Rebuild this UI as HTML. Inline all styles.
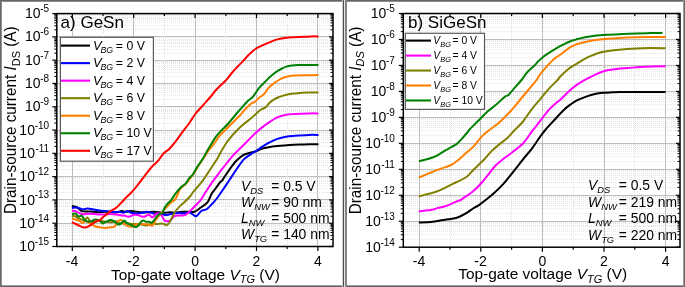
<!DOCTYPE html>
<html><head><meta charset="utf-8"><style>
html,body{margin:0;padding:0;background:#fff;}
body{width:685px;height:287px;overflow:hidden;}
svg{display:block;will-change:transform;}
text{font-family:"Liberation Sans", sans-serif;}
</style></head><body>
<svg width="685" height="287" viewBox="0 0 685 287" font-family='"Liberation Sans", sans-serif' fill="#000">
<rect x="0" y="0" width="685" height="287" fill="#fff"/>
<g shape-rendering="crispEdges"><line x1="56.8" y1="239.49" x2="333.0" y2="239.49" stroke="#e6e6e6" stroke-width="1" stroke-dasharray="1,1"/>
<line x1="56.8" y1="235.39" x2="333.0" y2="235.39" stroke="#e6e6e6" stroke-width="1" stroke-dasharray="1,1"/>
<line x1="56.8" y1="232.48" x2="333.0" y2="232.48" stroke="#e6e6e6" stroke-width="1" stroke-dasharray="1,1"/>
<line x1="56.8" y1="230.22" x2="333.0" y2="230.22" stroke="#e6e6e6" stroke-width="1" stroke-dasharray="1,1"/>
<line x1="56.8" y1="228.38" x2="333.0" y2="228.38" stroke="#e6e6e6" stroke-width="1" stroke-dasharray="1,1"/>
<line x1="56.8" y1="226.82" x2="333.0" y2="226.82" stroke="#e6e6e6" stroke-width="1" stroke-dasharray="1,1"/>
<line x1="56.8" y1="225.47" x2="333.0" y2="225.47" stroke="#e6e6e6" stroke-width="1" stroke-dasharray="1,1"/>
<line x1="56.8" y1="224.28" x2="333.0" y2="224.28" stroke="#e6e6e6" stroke-width="1" stroke-dasharray="1,1"/>
<line x1="56.8" y1="223.21" x2="333.0" y2="223.21" stroke="#bebebe" stroke-width="1"/>
<line x1="56.8" y1="216.20" x2="333.0" y2="216.20" stroke="#e6e6e6" stroke-width="1" stroke-dasharray="1,1"/>
<line x1="56.8" y1="212.10" x2="333.0" y2="212.10" stroke="#e6e6e6" stroke-width="1" stroke-dasharray="1,1"/>
<line x1="56.8" y1="209.19" x2="333.0" y2="209.19" stroke="#e6e6e6" stroke-width="1" stroke-dasharray="1,1"/>
<line x1="56.8" y1="206.93" x2="333.0" y2="206.93" stroke="#e6e6e6" stroke-width="1" stroke-dasharray="1,1"/>
<line x1="56.8" y1="205.09" x2="333.0" y2="205.09" stroke="#e6e6e6" stroke-width="1" stroke-dasharray="1,1"/>
<line x1="56.8" y1="203.53" x2="333.0" y2="203.53" stroke="#e6e6e6" stroke-width="1" stroke-dasharray="1,1"/>
<line x1="56.8" y1="202.18" x2="333.0" y2="202.18" stroke="#e6e6e6" stroke-width="1" stroke-dasharray="1,1"/>
<line x1="56.8" y1="200.99" x2="333.0" y2="200.99" stroke="#e6e6e6" stroke-width="1" stroke-dasharray="1,1"/>
<line x1="56.8" y1="199.92" x2="333.0" y2="199.92" stroke="#bebebe" stroke-width="1"/>
<line x1="56.8" y1="192.91" x2="333.0" y2="192.91" stroke="#e6e6e6" stroke-width="1" stroke-dasharray="1,1"/>
<line x1="56.8" y1="188.81" x2="333.0" y2="188.81" stroke="#e6e6e6" stroke-width="1" stroke-dasharray="1,1"/>
<line x1="56.8" y1="185.90" x2="333.0" y2="185.90" stroke="#e6e6e6" stroke-width="1" stroke-dasharray="1,1"/>
<line x1="56.8" y1="183.64" x2="333.0" y2="183.64" stroke="#e6e6e6" stroke-width="1" stroke-dasharray="1,1"/>
<line x1="56.8" y1="181.80" x2="333.0" y2="181.80" stroke="#e6e6e6" stroke-width="1" stroke-dasharray="1,1"/>
<line x1="56.8" y1="180.24" x2="333.0" y2="180.24" stroke="#e6e6e6" stroke-width="1" stroke-dasharray="1,1"/>
<line x1="56.8" y1="178.89" x2="333.0" y2="178.89" stroke="#e6e6e6" stroke-width="1" stroke-dasharray="1,1"/>
<line x1="56.8" y1="177.70" x2="333.0" y2="177.70" stroke="#e6e6e6" stroke-width="1" stroke-dasharray="1,1"/>
<line x1="56.8" y1="176.63" x2="333.0" y2="176.63" stroke="#bebebe" stroke-width="1"/>
<line x1="56.8" y1="169.62" x2="333.0" y2="169.62" stroke="#e6e6e6" stroke-width="1" stroke-dasharray="1,1"/>
<line x1="56.8" y1="165.52" x2="333.0" y2="165.52" stroke="#e6e6e6" stroke-width="1" stroke-dasharray="1,1"/>
<line x1="56.8" y1="162.61" x2="333.0" y2="162.61" stroke="#e6e6e6" stroke-width="1" stroke-dasharray="1,1"/>
<line x1="56.8" y1="160.35" x2="333.0" y2="160.35" stroke="#e6e6e6" stroke-width="1" stroke-dasharray="1,1"/>
<line x1="56.8" y1="158.51" x2="333.0" y2="158.51" stroke="#e6e6e6" stroke-width="1" stroke-dasharray="1,1"/>
<line x1="56.8" y1="156.95" x2="333.0" y2="156.95" stroke="#e6e6e6" stroke-width="1" stroke-dasharray="1,1"/>
<line x1="56.8" y1="155.60" x2="333.0" y2="155.60" stroke="#e6e6e6" stroke-width="1" stroke-dasharray="1,1"/>
<line x1="56.8" y1="154.41" x2="333.0" y2="154.41" stroke="#e6e6e6" stroke-width="1" stroke-dasharray="1,1"/>
<line x1="56.8" y1="153.34" x2="333.0" y2="153.34" stroke="#bebebe" stroke-width="1"/>
<line x1="56.8" y1="146.33" x2="333.0" y2="146.33" stroke="#e6e6e6" stroke-width="1" stroke-dasharray="1,1"/>
<line x1="56.8" y1="142.23" x2="333.0" y2="142.23" stroke="#e6e6e6" stroke-width="1" stroke-dasharray="1,1"/>
<line x1="56.8" y1="139.32" x2="333.0" y2="139.32" stroke="#e6e6e6" stroke-width="1" stroke-dasharray="1,1"/>
<line x1="56.8" y1="137.06" x2="333.0" y2="137.06" stroke="#e6e6e6" stroke-width="1" stroke-dasharray="1,1"/>
<line x1="56.8" y1="135.22" x2="333.0" y2="135.22" stroke="#e6e6e6" stroke-width="1" stroke-dasharray="1,1"/>
<line x1="56.8" y1="133.66" x2="333.0" y2="133.66" stroke="#e6e6e6" stroke-width="1" stroke-dasharray="1,1"/>
<line x1="56.8" y1="132.31" x2="333.0" y2="132.31" stroke="#e6e6e6" stroke-width="1" stroke-dasharray="1,1"/>
<line x1="56.8" y1="131.12" x2="333.0" y2="131.12" stroke="#e6e6e6" stroke-width="1" stroke-dasharray="1,1"/>
<line x1="56.8" y1="130.05" x2="333.0" y2="130.05" stroke="#bebebe" stroke-width="1"/>
<line x1="56.8" y1="123.04" x2="333.0" y2="123.04" stroke="#e6e6e6" stroke-width="1" stroke-dasharray="1,1"/>
<line x1="56.8" y1="118.94" x2="333.0" y2="118.94" stroke="#e6e6e6" stroke-width="1" stroke-dasharray="1,1"/>
<line x1="56.8" y1="116.03" x2="333.0" y2="116.03" stroke="#e6e6e6" stroke-width="1" stroke-dasharray="1,1"/>
<line x1="56.8" y1="113.77" x2="333.0" y2="113.77" stroke="#e6e6e6" stroke-width="1" stroke-dasharray="1,1"/>
<line x1="56.8" y1="111.93" x2="333.0" y2="111.93" stroke="#e6e6e6" stroke-width="1" stroke-dasharray="1,1"/>
<line x1="56.8" y1="110.37" x2="333.0" y2="110.37" stroke="#e6e6e6" stroke-width="1" stroke-dasharray="1,1"/>
<line x1="56.8" y1="109.02" x2="333.0" y2="109.02" stroke="#e6e6e6" stroke-width="1" stroke-dasharray="1,1"/>
<line x1="56.8" y1="107.83" x2="333.0" y2="107.83" stroke="#e6e6e6" stroke-width="1" stroke-dasharray="1,1"/>
<line x1="56.8" y1="106.76" x2="333.0" y2="106.76" stroke="#bebebe" stroke-width="1"/>
<line x1="56.8" y1="99.75" x2="333.0" y2="99.75" stroke="#e6e6e6" stroke-width="1" stroke-dasharray="1,1"/>
<line x1="56.8" y1="95.65" x2="333.0" y2="95.65" stroke="#e6e6e6" stroke-width="1" stroke-dasharray="1,1"/>
<line x1="56.8" y1="92.74" x2="333.0" y2="92.74" stroke="#e6e6e6" stroke-width="1" stroke-dasharray="1,1"/>
<line x1="56.8" y1="90.48" x2="333.0" y2="90.48" stroke="#e6e6e6" stroke-width="1" stroke-dasharray="1,1"/>
<line x1="56.8" y1="88.64" x2="333.0" y2="88.64" stroke="#e6e6e6" stroke-width="1" stroke-dasharray="1,1"/>
<line x1="56.8" y1="87.08" x2="333.0" y2="87.08" stroke="#e6e6e6" stroke-width="1" stroke-dasharray="1,1"/>
<line x1="56.8" y1="85.73" x2="333.0" y2="85.73" stroke="#e6e6e6" stroke-width="1" stroke-dasharray="1,1"/>
<line x1="56.8" y1="84.54" x2="333.0" y2="84.54" stroke="#e6e6e6" stroke-width="1" stroke-dasharray="1,1"/>
<line x1="56.8" y1="83.47" x2="333.0" y2="83.47" stroke="#bebebe" stroke-width="1"/>
<line x1="56.8" y1="76.46" x2="333.0" y2="76.46" stroke="#e6e6e6" stroke-width="1" stroke-dasharray="1,1"/>
<line x1="56.8" y1="72.36" x2="333.0" y2="72.36" stroke="#e6e6e6" stroke-width="1" stroke-dasharray="1,1"/>
<line x1="56.8" y1="69.45" x2="333.0" y2="69.45" stroke="#e6e6e6" stroke-width="1" stroke-dasharray="1,1"/>
<line x1="56.8" y1="67.19" x2="333.0" y2="67.19" stroke="#e6e6e6" stroke-width="1" stroke-dasharray="1,1"/>
<line x1="56.8" y1="65.35" x2="333.0" y2="65.35" stroke="#e6e6e6" stroke-width="1" stroke-dasharray="1,1"/>
<line x1="56.8" y1="63.79" x2="333.0" y2="63.79" stroke="#e6e6e6" stroke-width="1" stroke-dasharray="1,1"/>
<line x1="56.8" y1="62.44" x2="333.0" y2="62.44" stroke="#e6e6e6" stroke-width="1" stroke-dasharray="1,1"/>
<line x1="56.8" y1="61.25" x2="333.0" y2="61.25" stroke="#e6e6e6" stroke-width="1" stroke-dasharray="1,1"/>
<line x1="56.8" y1="60.18" x2="333.0" y2="60.18" stroke="#bebebe" stroke-width="1"/>
<line x1="56.8" y1="53.17" x2="333.0" y2="53.17" stroke="#e6e6e6" stroke-width="1" stroke-dasharray="1,1"/>
<line x1="56.8" y1="49.07" x2="333.0" y2="49.07" stroke="#e6e6e6" stroke-width="1" stroke-dasharray="1,1"/>
<line x1="56.8" y1="46.16" x2="333.0" y2="46.16" stroke="#e6e6e6" stroke-width="1" stroke-dasharray="1,1"/>
<line x1="56.8" y1="43.90" x2="333.0" y2="43.90" stroke="#e6e6e6" stroke-width="1" stroke-dasharray="1,1"/>
<line x1="56.8" y1="42.06" x2="333.0" y2="42.06" stroke="#e6e6e6" stroke-width="1" stroke-dasharray="1,1"/>
<line x1="56.8" y1="40.50" x2="333.0" y2="40.50" stroke="#e6e6e6" stroke-width="1" stroke-dasharray="1,1"/>
<line x1="56.8" y1="39.15" x2="333.0" y2="39.15" stroke="#e6e6e6" stroke-width="1" stroke-dasharray="1,1"/>
<line x1="56.8" y1="37.96" x2="333.0" y2="37.96" stroke="#e6e6e6" stroke-width="1" stroke-dasharray="1,1"/>
<line x1="56.8" y1="36.89" x2="333.0" y2="36.89" stroke="#bebebe" stroke-width="1"/>
<line x1="56.8" y1="29.88" x2="333.0" y2="29.88" stroke="#e6e6e6" stroke-width="1" stroke-dasharray="1,1"/>
<line x1="56.8" y1="25.78" x2="333.0" y2="25.78" stroke="#e6e6e6" stroke-width="1" stroke-dasharray="1,1"/>
<line x1="56.8" y1="22.87" x2="333.0" y2="22.87" stroke="#e6e6e6" stroke-width="1" stroke-dasharray="1,1"/>
<line x1="56.8" y1="20.61" x2="333.0" y2="20.61" stroke="#e6e6e6" stroke-width="1" stroke-dasharray="1,1"/>
<line x1="56.8" y1="18.77" x2="333.0" y2="18.77" stroke="#e6e6e6" stroke-width="1" stroke-dasharray="1,1"/>
<line x1="56.8" y1="17.21" x2="333.0" y2="17.21" stroke="#e6e6e6" stroke-width="1" stroke-dasharray="1,1"/>
<line x1="56.8" y1="15.86" x2="333.0" y2="15.86" stroke="#e6e6e6" stroke-width="1" stroke-dasharray="1,1"/>
<line x1="56.8" y1="14.67" x2="333.0" y2="14.67" stroke="#e6e6e6" stroke-width="1" stroke-dasharray="1,1"/>
<line x1="72.30" y1="13.6" x2="72.30" y2="246.5" stroke="#bebebe" stroke-width="1"/>
<line x1="103.00" y1="13.6" x2="103.00" y2="246.5" stroke="#e6e6e6" stroke-width="1" stroke-dasharray="1,1"/>
<line x1="133.70" y1="13.6" x2="133.70" y2="246.5" stroke="#bebebe" stroke-width="1"/>
<line x1="164.40" y1="13.6" x2="164.40" y2="246.5" stroke="#e6e6e6" stroke-width="1" stroke-dasharray="1,1"/>
<line x1="195.10" y1="13.6" x2="195.10" y2="246.5" stroke="#bebebe" stroke-width="1"/>
<line x1="225.80" y1="13.6" x2="225.80" y2="246.5" stroke="#e6e6e6" stroke-width="1" stroke-dasharray="1,1"/>
<line x1="256.50" y1="13.6" x2="256.50" y2="246.5" stroke="#bebebe" stroke-width="1"/>
<line x1="287.20" y1="13.6" x2="287.20" y2="246.5" stroke="#e6e6e6" stroke-width="1" stroke-dasharray="1,1"/>
<line x1="317.90" y1="13.6" x2="317.90" y2="246.5" stroke="#bebebe" stroke-width="1"/>
<line x1="403.3" y1="239.38" x2="680.0" y2="239.38" stroke="#e6e6e6" stroke-width="1" stroke-dasharray="1,1"/>
<line x1="403.3" y1="234.81" x2="680.0" y2="234.81" stroke="#e6e6e6" stroke-width="1" stroke-dasharray="1,1"/>
<line x1="403.3" y1="231.57" x2="680.0" y2="231.57" stroke="#e6e6e6" stroke-width="1" stroke-dasharray="1,1"/>
<line x1="403.3" y1="229.05" x2="680.0" y2="229.05" stroke="#e6e6e6" stroke-width="1" stroke-dasharray="1,1"/>
<line x1="403.3" y1="226.99" x2="680.0" y2="226.99" stroke="#e6e6e6" stroke-width="1" stroke-dasharray="1,1"/>
<line x1="403.3" y1="225.26" x2="680.0" y2="225.26" stroke="#e6e6e6" stroke-width="1" stroke-dasharray="1,1"/>
<line x1="403.3" y1="223.75" x2="680.0" y2="223.75" stroke="#e6e6e6" stroke-width="1" stroke-dasharray="1,1"/>
<line x1="403.3" y1="222.42" x2="680.0" y2="222.42" stroke="#e6e6e6" stroke-width="1" stroke-dasharray="1,1"/>
<line x1="403.3" y1="221.23" x2="680.0" y2="221.23" stroke="#bebebe" stroke-width="1"/>
<line x1="403.3" y1="213.42" x2="680.0" y2="213.42" stroke="#e6e6e6" stroke-width="1" stroke-dasharray="1,1"/>
<line x1="403.3" y1="208.84" x2="680.0" y2="208.84" stroke="#e6e6e6" stroke-width="1" stroke-dasharray="1,1"/>
<line x1="403.3" y1="205.60" x2="680.0" y2="205.60" stroke="#e6e6e6" stroke-width="1" stroke-dasharray="1,1"/>
<line x1="403.3" y1="203.08" x2="680.0" y2="203.08" stroke="#e6e6e6" stroke-width="1" stroke-dasharray="1,1"/>
<line x1="403.3" y1="201.03" x2="680.0" y2="201.03" stroke="#e6e6e6" stroke-width="1" stroke-dasharray="1,1"/>
<line x1="403.3" y1="199.29" x2="680.0" y2="199.29" stroke="#e6e6e6" stroke-width="1" stroke-dasharray="1,1"/>
<line x1="403.3" y1="197.78" x2="680.0" y2="197.78" stroke="#e6e6e6" stroke-width="1" stroke-dasharray="1,1"/>
<line x1="403.3" y1="196.45" x2="680.0" y2="196.45" stroke="#e6e6e6" stroke-width="1" stroke-dasharray="1,1"/>
<line x1="403.3" y1="195.27" x2="680.0" y2="195.27" stroke="#bebebe" stroke-width="1"/>
<line x1="403.3" y1="187.45" x2="680.0" y2="187.45" stroke="#e6e6e6" stroke-width="1" stroke-dasharray="1,1"/>
<line x1="403.3" y1="182.88" x2="680.0" y2="182.88" stroke="#e6e6e6" stroke-width="1" stroke-dasharray="1,1"/>
<line x1="403.3" y1="179.63" x2="680.0" y2="179.63" stroke="#e6e6e6" stroke-width="1" stroke-dasharray="1,1"/>
<line x1="403.3" y1="177.12" x2="680.0" y2="177.12" stroke="#e6e6e6" stroke-width="1" stroke-dasharray="1,1"/>
<line x1="403.3" y1="175.06" x2="680.0" y2="175.06" stroke="#e6e6e6" stroke-width="1" stroke-dasharray="1,1"/>
<line x1="403.3" y1="173.32" x2="680.0" y2="173.32" stroke="#e6e6e6" stroke-width="1" stroke-dasharray="1,1"/>
<line x1="403.3" y1="171.82" x2="680.0" y2="171.82" stroke="#e6e6e6" stroke-width="1" stroke-dasharray="1,1"/>
<line x1="403.3" y1="170.49" x2="680.0" y2="170.49" stroke="#e6e6e6" stroke-width="1" stroke-dasharray="1,1"/>
<line x1="403.3" y1="169.30" x2="680.0" y2="169.30" stroke="#bebebe" stroke-width="1"/>
<line x1="403.3" y1="161.48" x2="680.0" y2="161.48" stroke="#e6e6e6" stroke-width="1" stroke-dasharray="1,1"/>
<line x1="403.3" y1="156.91" x2="680.0" y2="156.91" stroke="#e6e6e6" stroke-width="1" stroke-dasharray="1,1"/>
<line x1="403.3" y1="153.67" x2="680.0" y2="153.67" stroke="#e6e6e6" stroke-width="1" stroke-dasharray="1,1"/>
<line x1="403.3" y1="151.15" x2="680.0" y2="151.15" stroke="#e6e6e6" stroke-width="1" stroke-dasharray="1,1"/>
<line x1="403.3" y1="149.09" x2="680.0" y2="149.09" stroke="#e6e6e6" stroke-width="1" stroke-dasharray="1,1"/>
<line x1="403.3" y1="147.36" x2="680.0" y2="147.36" stroke="#e6e6e6" stroke-width="1" stroke-dasharray="1,1"/>
<line x1="403.3" y1="145.85" x2="680.0" y2="145.85" stroke="#e6e6e6" stroke-width="1" stroke-dasharray="1,1"/>
<line x1="403.3" y1="144.52" x2="680.0" y2="144.52" stroke="#e6e6e6" stroke-width="1" stroke-dasharray="1,1"/>
<line x1="403.3" y1="143.33" x2="680.0" y2="143.33" stroke="#bebebe" stroke-width="1"/>
<line x1="403.3" y1="135.52" x2="680.0" y2="135.52" stroke="#e6e6e6" stroke-width="1" stroke-dasharray="1,1"/>
<line x1="403.3" y1="130.94" x2="680.0" y2="130.94" stroke="#e6e6e6" stroke-width="1" stroke-dasharray="1,1"/>
<line x1="403.3" y1="127.70" x2="680.0" y2="127.70" stroke="#e6e6e6" stroke-width="1" stroke-dasharray="1,1"/>
<line x1="403.3" y1="125.18" x2="680.0" y2="125.18" stroke="#e6e6e6" stroke-width="1" stroke-dasharray="1,1"/>
<line x1="403.3" y1="123.13" x2="680.0" y2="123.13" stroke="#e6e6e6" stroke-width="1" stroke-dasharray="1,1"/>
<line x1="403.3" y1="121.39" x2="680.0" y2="121.39" stroke="#e6e6e6" stroke-width="1" stroke-dasharray="1,1"/>
<line x1="403.3" y1="119.88" x2="680.0" y2="119.88" stroke="#e6e6e6" stroke-width="1" stroke-dasharray="1,1"/>
<line x1="403.3" y1="118.55" x2="680.0" y2="118.55" stroke="#e6e6e6" stroke-width="1" stroke-dasharray="1,1"/>
<line x1="403.3" y1="117.37" x2="680.0" y2="117.37" stroke="#bebebe" stroke-width="1"/>
<line x1="403.3" y1="109.55" x2="680.0" y2="109.55" stroke="#e6e6e6" stroke-width="1" stroke-dasharray="1,1"/>
<line x1="403.3" y1="104.98" x2="680.0" y2="104.98" stroke="#e6e6e6" stroke-width="1" stroke-dasharray="1,1"/>
<line x1="403.3" y1="101.73" x2="680.0" y2="101.73" stroke="#e6e6e6" stroke-width="1" stroke-dasharray="1,1"/>
<line x1="403.3" y1="99.22" x2="680.0" y2="99.22" stroke="#e6e6e6" stroke-width="1" stroke-dasharray="1,1"/>
<line x1="403.3" y1="97.16" x2="680.0" y2="97.16" stroke="#e6e6e6" stroke-width="1" stroke-dasharray="1,1"/>
<line x1="403.3" y1="95.42" x2="680.0" y2="95.42" stroke="#e6e6e6" stroke-width="1" stroke-dasharray="1,1"/>
<line x1="403.3" y1="93.92" x2="680.0" y2="93.92" stroke="#e6e6e6" stroke-width="1" stroke-dasharray="1,1"/>
<line x1="403.3" y1="92.59" x2="680.0" y2="92.59" stroke="#e6e6e6" stroke-width="1" stroke-dasharray="1,1"/>
<line x1="403.3" y1="91.40" x2="680.0" y2="91.40" stroke="#bebebe" stroke-width="1"/>
<line x1="403.3" y1="83.58" x2="680.0" y2="83.58" stroke="#e6e6e6" stroke-width="1" stroke-dasharray="1,1"/>
<line x1="403.3" y1="79.01" x2="680.0" y2="79.01" stroke="#e6e6e6" stroke-width="1" stroke-dasharray="1,1"/>
<line x1="403.3" y1="75.77" x2="680.0" y2="75.77" stroke="#e6e6e6" stroke-width="1" stroke-dasharray="1,1"/>
<line x1="403.3" y1="73.25" x2="680.0" y2="73.25" stroke="#e6e6e6" stroke-width="1" stroke-dasharray="1,1"/>
<line x1="403.3" y1="71.19" x2="680.0" y2="71.19" stroke="#e6e6e6" stroke-width="1" stroke-dasharray="1,1"/>
<line x1="403.3" y1="69.46" x2="680.0" y2="69.46" stroke="#e6e6e6" stroke-width="1" stroke-dasharray="1,1"/>
<line x1="403.3" y1="67.95" x2="680.0" y2="67.95" stroke="#e6e6e6" stroke-width="1" stroke-dasharray="1,1"/>
<line x1="403.3" y1="66.62" x2="680.0" y2="66.62" stroke="#e6e6e6" stroke-width="1" stroke-dasharray="1,1"/>
<line x1="403.3" y1="65.43" x2="680.0" y2="65.43" stroke="#bebebe" stroke-width="1"/>
<line x1="403.3" y1="57.62" x2="680.0" y2="57.62" stroke="#e6e6e6" stroke-width="1" stroke-dasharray="1,1"/>
<line x1="403.3" y1="53.04" x2="680.0" y2="53.04" stroke="#e6e6e6" stroke-width="1" stroke-dasharray="1,1"/>
<line x1="403.3" y1="49.80" x2="680.0" y2="49.80" stroke="#e6e6e6" stroke-width="1" stroke-dasharray="1,1"/>
<line x1="403.3" y1="47.28" x2="680.0" y2="47.28" stroke="#e6e6e6" stroke-width="1" stroke-dasharray="1,1"/>
<line x1="403.3" y1="45.23" x2="680.0" y2="45.23" stroke="#e6e6e6" stroke-width="1" stroke-dasharray="1,1"/>
<line x1="403.3" y1="43.49" x2="680.0" y2="43.49" stroke="#e6e6e6" stroke-width="1" stroke-dasharray="1,1"/>
<line x1="403.3" y1="41.98" x2="680.0" y2="41.98" stroke="#e6e6e6" stroke-width="1" stroke-dasharray="1,1"/>
<line x1="403.3" y1="40.65" x2="680.0" y2="40.65" stroke="#e6e6e6" stroke-width="1" stroke-dasharray="1,1"/>
<line x1="403.3" y1="39.47" x2="680.0" y2="39.47" stroke="#bebebe" stroke-width="1"/>
<line x1="403.3" y1="31.65" x2="680.0" y2="31.65" stroke="#e6e6e6" stroke-width="1" stroke-dasharray="1,1"/>
<line x1="403.3" y1="27.08" x2="680.0" y2="27.08" stroke="#e6e6e6" stroke-width="1" stroke-dasharray="1,1"/>
<line x1="403.3" y1="23.83" x2="680.0" y2="23.83" stroke="#e6e6e6" stroke-width="1" stroke-dasharray="1,1"/>
<line x1="403.3" y1="21.32" x2="680.0" y2="21.32" stroke="#e6e6e6" stroke-width="1" stroke-dasharray="1,1"/>
<line x1="403.3" y1="19.26" x2="680.0" y2="19.26" stroke="#e6e6e6" stroke-width="1" stroke-dasharray="1,1"/>
<line x1="403.3" y1="17.52" x2="680.0" y2="17.52" stroke="#e6e6e6" stroke-width="1" stroke-dasharray="1,1"/>
<line x1="403.3" y1="16.02" x2="680.0" y2="16.02" stroke="#e6e6e6" stroke-width="1" stroke-dasharray="1,1"/>
<line x1="403.3" y1="14.69" x2="680.0" y2="14.69" stroke="#e6e6e6" stroke-width="1" stroke-dasharray="1,1"/>
<line x1="419.20" y1="13.5" x2="419.20" y2="247.2" stroke="#bebebe" stroke-width="1"/>
<line x1="450.00" y1="13.5" x2="450.00" y2="247.2" stroke="#e6e6e6" stroke-width="1" stroke-dasharray="1,1"/>
<line x1="480.80" y1="13.5" x2="480.80" y2="247.2" stroke="#bebebe" stroke-width="1"/>
<line x1="511.60" y1="13.5" x2="511.60" y2="247.2" stroke="#e6e6e6" stroke-width="1" stroke-dasharray="1,1"/>
<line x1="542.40" y1="13.5" x2="542.40" y2="247.2" stroke="#bebebe" stroke-width="1"/>
<line x1="573.20" y1="13.5" x2="573.20" y2="247.2" stroke="#e6e6e6" stroke-width="1" stroke-dasharray="1,1"/>
<line x1="604.00" y1="13.5" x2="604.00" y2="247.2" stroke="#bebebe" stroke-width="1"/>
<line x1="634.80" y1="13.5" x2="634.80" y2="247.2" stroke="#e6e6e6" stroke-width="1" stroke-dasharray="1,1"/>
<line x1="665.60" y1="13.5" x2="665.60" y2="247.2" stroke="#bebebe" stroke-width="1"/></g>
<clipPath id="cpa"><rect x="56.8" y="13.6" width="276.2" height="232.9"/></clipPath>
<g clip-path="url(#cpa)">
<path d="M71.90,206.10 C72.55,206.20 74.67,206.25 75.80,206.70 C76.93,207.15 77.72,208.07 78.70,208.80 C79.68,209.53 80.23,210.65 81.70,211.10 C83.17,211.55 85.47,211.40 87.50,211.50 C89.53,211.60 91.92,211.57 93.90,211.70 C95.88,211.83 97.55,212.30 99.40,212.30 C101.25,212.30 103.13,211.75 105.00,211.70 C106.87,211.65 108.73,211.87 110.60,212.00 C112.47,212.13 114.35,212.65 116.20,212.50 C118.05,212.35 120.13,211.23 121.70,211.10 C123.27,210.97 124.03,211.70 125.60,211.70 C127.17,211.70 129.25,211.10 131.10,211.10 C132.95,211.10 134.83,211.50 136.70,211.70 C138.57,211.90 140.43,212.20 142.30,212.30 C144.17,212.40 146.05,212.40 147.90,212.30 C149.75,212.20 151.55,211.70 153.40,211.70 C155.25,211.70 157.13,212.12 159.00,212.30 C160.87,212.48 162.73,212.80 164.60,212.80 C166.47,212.80 168.35,212.30 170.20,212.30 C172.05,212.30 173.68,212.88 175.70,212.80 C177.72,212.72 180.03,211.97 182.30,211.80 C184.57,211.63 187.27,211.80 189.30,211.80 C191.33,211.80 192.75,212.38 194.50,211.80 C196.25,211.22 197.75,209.77 199.80,208.30 C201.85,206.83 205.18,204.63 206.80,203.00 C208.42,201.37 208.62,200.17 209.50,198.50 C210.38,196.83 211.08,194.67 212.10,193.00 C213.12,191.33 214.28,190.27 215.60,188.50 C216.92,186.73 218.83,183.85 220.00,182.40 C221.17,180.95 221.00,181.98 222.60,179.80 C224.20,177.62 227.27,172.52 229.60,169.30 C231.93,166.08 234.27,162.90 236.60,160.50 C238.93,158.10 241.20,156.23 243.60,154.90 C246.00,153.57 248.88,153.12 251.00,152.50 C253.12,151.88 254.55,151.80 256.30,151.20 C258.05,150.60 259.45,149.57 261.50,148.90 C263.55,148.23 265.97,147.68 268.60,147.20 C271.23,146.72 273.80,146.38 277.30,146.00 C280.80,145.62 285.22,145.15 289.60,144.90 C293.98,144.65 298.78,144.62 303.60,144.50 C308.42,144.38 316.02,144.25 318.50,144.20" fill="none" stroke="#000000" stroke-width="2.0" stroke-linejoin="round" stroke-linecap="butt"/>
<path d="M71.90,207.90 C72.72,207.82 75.33,207.25 76.80,207.40 C78.27,207.55 79.57,208.48 80.70,208.80 C81.83,209.12 82.47,209.33 83.60,209.30 C84.73,209.27 85.78,208.57 87.50,208.60 C89.22,208.63 91.92,209.17 93.90,209.50 C95.88,209.83 97.55,210.33 99.40,210.60 C101.25,210.87 103.13,210.92 105.00,211.10 C106.87,211.28 108.73,211.55 110.60,211.70 C112.47,211.85 114.35,211.90 116.20,212.00 C118.05,212.10 120.52,212.17 121.70,212.30 C122.88,212.43 122.28,213.00 123.30,212.80 C124.32,212.60 126.50,211.10 127.80,211.10 C129.10,211.10 129.62,212.42 131.10,212.80 C132.58,213.18 134.83,213.40 136.70,213.40 C138.57,213.40 140.62,213.08 142.30,212.80 C143.98,212.52 145.32,211.70 146.80,211.70 C148.28,211.70 149.72,212.43 151.20,212.80 C152.68,213.17 154.22,213.80 155.70,213.90 C157.18,214.00 158.62,213.22 160.10,213.40 C161.58,213.58 163.10,214.82 164.60,215.00 C166.10,215.18 167.62,214.77 169.10,214.50 C170.58,214.23 171.68,213.68 173.50,213.40 C175.32,213.12 178.53,212.78 180.00,212.80 C181.47,212.82 180.75,213.53 182.30,213.50 C183.85,213.47 187.55,212.45 189.30,212.60 C191.05,212.75 191.63,213.82 192.80,214.40 C193.97,214.98 194.85,216.68 196.30,216.10 C197.75,215.52 199.75,212.07 201.50,210.90 C203.25,209.73 205.03,210.27 206.80,209.10 C208.57,207.93 210.50,205.58 212.10,203.90 C213.70,202.22 214.65,201.27 216.40,199.00 C218.15,196.73 220.40,193.50 222.60,190.30 C224.80,187.10 227.27,183.30 229.60,179.80 C231.93,176.30 234.27,172.67 236.60,169.30 C238.93,165.93 241.27,162.08 243.60,159.60 C245.93,157.12 248.27,156.00 250.60,154.40 C252.93,152.80 255.78,151.20 257.60,150.00 C259.42,148.80 259.67,148.40 261.50,147.20 C263.33,146.00 265.97,144.18 268.60,142.80 C271.23,141.42 274.40,139.92 277.30,138.90 C280.20,137.88 283.08,137.22 286.00,136.70 C288.92,136.18 290.98,136.10 294.80,135.80 C298.62,135.50 304.95,135.05 308.90,134.90 C312.85,134.75 316.90,134.90 318.50,134.90" fill="none" stroke="#0000ff" stroke-width="2.0" stroke-linejoin="round" stroke-linecap="butt"/>
<path d="M71.90,210.80 C72.55,210.88 74.50,210.90 75.80,211.30 C77.10,211.70 78.40,212.72 79.70,213.20 C81.00,213.68 82.30,214.12 83.60,214.20 C84.90,214.28 85.78,213.75 87.50,213.70 C89.22,213.65 91.92,213.77 93.90,213.90 C95.88,214.03 97.55,214.40 99.40,214.50 C101.25,214.60 103.13,214.60 105.00,214.50 C106.87,214.40 108.73,213.90 110.60,213.90 C112.47,213.90 114.35,214.22 116.20,214.50 C118.05,214.78 120.32,215.42 121.70,215.60 C123.08,215.78 123.30,215.42 124.50,215.60 C125.70,215.78 127.42,216.80 128.90,216.70 C130.38,216.60 131.92,215.28 133.40,215.00 C134.88,214.72 136.32,214.72 137.80,215.00 C139.28,215.28 141.00,216.50 142.30,216.70 C143.60,216.90 144.48,216.57 145.60,216.20 C146.72,215.83 147.88,214.32 149.00,214.50 C150.12,214.68 151.00,217.48 152.30,217.30 C153.60,217.12 155.50,213.97 156.80,213.40 C158.10,212.83 159.17,213.35 160.10,213.90 C161.03,214.45 161.65,215.58 162.40,216.70 C163.15,217.82 163.68,219.85 164.60,220.60 C165.52,221.35 166.97,221.20 167.90,221.20 C168.83,221.20 169.27,221.35 170.20,220.60 C171.13,219.85 172.38,217.53 173.50,216.70 C174.62,215.87 175.82,215.78 176.90,215.60 C177.98,215.42 178.82,215.65 180.00,215.60 C181.18,215.55 182.75,215.65 184.00,215.30 C185.25,214.95 186.03,214.67 187.50,213.50 C188.97,212.33 191.05,210.05 192.80,208.30 C194.55,206.55 196.68,204.38 198.00,203.00 C199.32,201.62 199.23,202.12 200.70,200.00 C202.17,197.88 204.90,193.23 206.80,190.30 C208.70,187.37 210.05,185.32 212.10,182.40 C214.15,179.48 216.77,175.87 219.10,172.80 C221.43,169.73 223.77,166.92 226.10,164.00 C228.43,161.08 230.70,157.97 233.10,155.30 C235.50,152.63 238.10,150.38 240.50,148.00 C242.90,145.62 245.17,143.33 247.50,141.00 C249.83,138.67 252.17,136.18 254.50,134.00 C256.83,131.82 259.15,129.80 261.50,127.90 C263.85,126.00 265.97,124.35 268.60,122.60 C271.23,120.85 274.40,118.70 277.30,117.40 C280.20,116.10 283.08,115.38 286.00,114.80 C288.92,114.22 290.98,114.13 294.80,113.90 C298.62,113.67 304.95,113.48 308.90,113.40 C312.85,113.32 316.90,113.40 318.50,113.40" fill="none" stroke="#ff00ff" stroke-width="2.0" stroke-linejoin="round" stroke-linecap="butt"/>
<path d="M71.90,216.40 C72.38,216.35 73.82,215.82 74.80,216.10 C75.78,216.38 76.65,217.52 77.80,218.10 C78.95,218.68 80.57,219.20 81.70,219.60 C82.83,220.00 83.63,220.83 84.60,220.50 C85.57,220.17 86.53,217.43 87.50,217.60 C88.47,217.77 89.15,220.72 90.40,221.50 C91.65,222.28 93.50,222.45 95.00,222.30 C96.50,222.15 97.73,220.70 99.40,220.60 C101.07,220.50 103.13,221.42 105.00,221.70 C106.87,221.98 108.73,222.38 110.60,222.30 C112.47,222.22 114.63,221.02 116.20,221.20 C117.77,221.38 118.43,223.12 120.00,223.40 C121.57,223.68 123.75,222.80 125.60,222.90 C127.45,223.00 129.25,223.82 131.10,224.00 C132.95,224.18 134.83,223.92 136.70,224.00 C138.57,224.08 140.62,224.23 142.30,224.50 C143.98,224.77 145.13,225.78 146.80,225.60 C148.47,225.42 150.63,223.67 152.30,223.40 C153.97,223.13 155.12,224.00 156.80,224.00 C158.48,224.00 160.73,223.22 162.40,223.40 C164.07,223.58 165.50,225.47 166.80,225.10 C168.10,224.73 169.08,222.97 170.20,221.20 C171.32,219.43 172.38,216.45 173.50,214.50 C174.62,212.55 175.82,210.90 176.90,209.50 C177.98,208.10 178.82,207.27 180.00,206.10 C181.18,204.93 182.27,204.18 184.00,202.50 C185.73,200.82 188.87,197.75 190.40,196.00 C191.93,194.25 191.05,194.70 193.20,192.00 C195.35,189.30 200.45,183.58 203.30,179.80 C206.15,176.02 207.85,173.02 210.30,169.30 C212.75,165.58 216.35,160.17 218.00,157.50 C219.65,154.83 218.78,155.75 220.20,153.30 C221.62,150.85 224.28,146.02 226.50,142.80 C228.72,139.58 230.87,136.92 233.50,134.00 C236.13,131.08 239.38,127.92 242.30,125.30 C245.22,122.68 248.88,120.07 251.00,118.30 C253.12,116.53 253.47,116.08 255.00,114.70 C256.53,113.32 258.47,111.22 260.20,110.00 C261.93,108.78 263.83,108.62 265.40,107.40 C266.97,106.18 268.20,104.00 269.60,102.70 C271.00,101.40 272.23,100.55 273.80,99.60 C275.37,98.65 277.27,97.70 279.00,97.00 C280.73,96.30 282.45,95.88 284.20,95.40 C285.95,94.92 287.70,94.42 289.50,94.10 C291.30,93.78 291.77,93.75 295.00,93.50 C298.23,93.25 304.98,92.78 308.90,92.60 C312.82,92.42 316.90,92.43 318.50,92.40" fill="none" stroke="#808000" stroke-width="2.0" stroke-linejoin="round" stroke-linecap="butt"/>
<path d="M71.90,218.60 C72.55,218.77 74.50,219.20 75.80,219.60 C77.10,220.00 78.57,220.43 79.70,221.00 C80.83,221.57 81.62,223.00 82.60,223.00 C83.58,223.00 84.62,221.08 85.60,221.00 C86.58,220.92 87.43,221.93 88.50,222.50 C89.57,223.07 90.92,223.78 92.00,224.40 C93.08,225.02 93.77,225.72 95.00,226.20 C96.23,226.68 97.73,227.02 99.40,227.30 C101.07,227.58 103.13,227.90 105.00,227.90 C106.87,227.90 108.93,227.58 110.60,227.30 C112.27,227.02 113.88,227.13 115.00,226.20 C116.12,225.27 116.18,222.72 117.30,221.70 C118.42,220.68 120.70,219.82 121.70,220.10 C122.70,220.38 122.47,222.48 123.30,223.40 C124.13,224.32 125.40,225.03 126.70,225.60 C128.00,226.17 129.43,226.98 131.10,226.80 C132.77,226.62 134.83,224.97 136.70,224.50 C138.57,224.03 140.43,224.00 142.30,224.00 C144.17,224.00 146.23,224.23 147.90,224.50 C149.57,224.77 151.00,226.33 152.30,225.60 C153.60,224.87 154.58,221.77 155.70,220.10 C156.82,218.43 157.88,217.00 159.00,215.60 C160.12,214.20 161.10,213.18 162.40,211.70 C163.70,210.22 165.32,208.28 166.80,206.70 C168.28,205.12 170.00,203.32 171.30,202.20 C172.60,201.08 173.65,201.03 174.60,200.00 C175.55,198.97 176.02,197.92 177.00,196.00 C177.98,194.08 179.03,190.53 180.50,188.50 C181.97,186.47 183.75,186.05 185.80,183.80 C187.85,181.55 190.77,177.88 192.80,175.00 C194.83,172.12 196.25,169.25 198.00,166.50 C199.75,163.75 201.53,161.17 203.30,158.50 C205.07,155.83 206.48,153.42 208.60,150.50 C210.72,147.58 214.18,143.45 216.00,141.00 C217.82,138.55 218.03,137.55 219.50,135.80 C220.97,134.05 222.75,132.55 224.80,130.50 C226.85,128.45 229.18,126.12 231.80,123.50 C234.42,120.88 238.47,116.97 240.50,114.80 C242.53,112.63 242.25,112.33 244.00,110.50 C245.75,108.67 249.17,105.27 251.00,103.80 C252.83,102.33 253.63,102.75 255.00,101.70 C256.37,100.65 257.98,98.55 259.20,97.50 C260.42,96.45 261.27,96.27 262.30,95.40 C263.33,94.53 264.35,93.57 265.40,92.30 C266.45,91.03 267.37,89.17 268.60,87.80 C269.83,86.43 271.23,85.32 272.80,84.10 C274.37,82.88 276.27,81.55 278.00,80.50 C279.73,79.45 281.47,78.50 283.20,77.80 C284.93,77.10 286.43,76.68 288.40,76.30 C290.37,75.92 291.88,75.67 295.00,75.50 C298.12,75.33 303.18,75.40 307.10,75.30 C311.02,75.20 316.60,74.97 318.50,74.90" fill="none" stroke="#ff8000" stroke-width="2.0" stroke-linejoin="round" stroke-linecap="butt"/>
<path d="M71.90,214.50 C72.47,214.33 74.17,213.15 75.30,213.50 C76.43,213.85 77.63,216.23 78.70,216.60 C79.77,216.97 80.63,215.05 81.70,215.70 C82.77,216.35 84.13,219.53 85.10,220.50 C86.07,221.47 86.42,221.38 87.50,221.50 C88.58,221.62 90.35,221.53 91.60,221.20 C92.85,220.87 93.70,219.60 95.00,219.50 C96.30,219.40 98.10,219.95 99.40,220.60 C100.70,221.25 101.68,223.22 102.80,223.40 C103.92,223.58 104.80,222.25 106.10,221.70 C107.40,221.15 109.30,220.18 110.60,220.10 C111.90,220.02 112.60,220.47 113.90,221.20 C115.20,221.93 117.02,224.28 118.40,224.50 C119.78,224.72 121.18,223.15 122.20,222.50 C123.22,221.85 123.75,220.53 124.50,220.60 C125.25,220.67 125.60,222.15 126.70,222.90 C127.80,223.65 129.43,224.45 131.10,225.10 C132.77,225.75 134.83,227.55 136.70,226.80 C138.57,226.05 140.82,221.45 142.30,220.60 C143.78,219.75 144.48,221.52 145.60,221.70 C146.72,221.88 147.88,221.60 149.00,221.70 C150.12,221.80 151.18,222.95 152.30,222.30 C153.42,221.65 154.58,219.10 155.70,217.80 C156.82,216.50 157.88,215.33 159.00,214.50 C160.12,213.67 161.47,213.92 162.40,212.80 C163.33,211.68 163.68,209.38 164.60,207.80 C165.52,206.22 166.78,204.60 167.90,203.30 C169.02,202.00 170.07,201.58 171.30,200.00 C172.53,198.42 173.77,195.85 175.30,193.80 C176.83,191.75 178.75,189.45 180.50,187.70 C182.25,185.95 184.33,184.92 185.80,183.30 C187.27,181.68 188.13,179.47 189.30,178.00 C190.47,176.53 191.35,176.53 192.80,174.50 C194.25,172.47 196.25,168.57 198.00,165.80 C199.75,163.03 201.68,160.53 203.30,157.90 C204.92,155.27 206.52,152.07 207.70,150.00 C208.88,147.93 209.02,147.72 210.40,145.50 C211.78,143.28 214.18,139.20 216.00,136.70 C217.82,134.20 219.25,132.70 221.30,130.50 C223.35,128.30 225.68,126.42 228.30,123.50 C230.92,120.58 234.97,115.42 237.00,113.00 C239.03,110.58 238.75,110.97 240.50,109.00 C242.25,107.03 245.45,103.23 247.50,101.20 C249.55,99.17 250.85,99.03 252.80,96.80 C254.75,94.57 257.10,90.35 259.20,87.80 C261.30,85.25 263.48,83.42 265.40,81.50 C267.32,79.58 268.95,77.87 270.70,76.30 C272.45,74.73 274.17,73.32 275.90,72.10 C277.63,70.88 279.37,69.92 281.10,69.00 C282.83,68.08 284.55,67.18 286.30,66.60 C288.05,66.02 289.60,65.75 291.60,65.50 C293.60,65.25 293.82,65.18 298.30,65.10 C302.78,65.02 315.13,65.02 318.50,65.00" fill="none" stroke="#008000" stroke-width="2.0" stroke-linejoin="round" stroke-linecap="butt"/>
<path d="M71.90,222.20 C72.55,222.50 74.50,223.38 75.80,224.00 C77.10,224.62 78.40,225.33 79.70,225.90 C81.00,226.47 82.30,227.23 83.60,227.40 C84.90,227.57 85.97,227.55 87.50,226.90 C89.03,226.25 91.18,224.55 92.80,223.50 C94.42,222.45 96.10,221.08 97.20,220.60 C98.30,220.12 98.65,220.97 99.40,220.60 C100.15,220.23 100.77,219.23 101.70,218.40 C102.63,217.57 103.52,216.82 105.00,215.60 C106.48,214.38 108.73,212.40 110.60,211.10 C112.47,209.80 114.35,209.28 116.20,207.80 C118.05,206.32 120.40,203.50 121.70,202.20 C123.00,200.90 123.45,200.62 124.00,200.00 C124.55,199.38 123.70,199.83 125.00,198.50 C126.30,197.17 129.75,194.17 131.80,192.00 C133.85,189.83 135.22,188.12 137.30,185.50 C139.38,182.88 141.97,179.30 144.30,176.30 C146.63,173.30 148.97,170.13 151.30,167.50 C153.63,164.87 156.27,162.83 158.30,160.50 C160.33,158.17 161.63,155.45 163.50,153.50 C165.37,151.55 167.42,150.88 169.50,148.80 C171.58,146.72 174.00,143.58 176.00,141.00 C178.00,138.42 179.45,136.05 181.50,133.30 C183.55,130.55 186.72,126.63 188.30,124.50 C189.88,122.37 189.72,122.42 191.00,120.50 C192.28,118.58 194.33,115.17 196.00,113.00 C197.67,110.83 199.33,109.37 201.00,107.50 C202.67,105.63 204.37,103.63 206.00,101.80 C207.63,99.97 209.22,98.38 210.80,96.50 C212.38,94.62 213.80,92.42 215.50,90.50 C217.20,88.58 219.12,86.87 221.00,85.00 C222.88,83.13 224.93,81.38 226.80,79.30 C228.67,77.22 230.42,74.58 232.20,72.50 C233.98,70.42 235.70,68.70 237.50,66.80 C239.30,64.90 241.20,63.02 243.00,61.10 C244.80,59.18 246.62,57.02 248.30,55.30 C249.98,53.58 251.72,51.98 253.10,50.80 C254.48,49.62 255.15,49.07 256.60,48.20 C258.05,47.33 259.57,46.62 261.80,45.60 C264.03,44.58 267.42,43.13 270.00,42.10 C272.58,41.07 274.62,40.13 277.30,39.40 C279.98,38.67 282.60,38.08 286.10,37.70 C289.60,37.32 294.22,37.32 298.30,37.10 C302.38,36.88 307.23,36.52 310.60,36.40 C313.97,36.28 317.18,36.40 318.50,36.40" fill="none" stroke="#ff0000" stroke-width="2.0" stroke-linejoin="round" stroke-linecap="butt"/>
</g>
<g>
<path d="M418.80,222.40 C420.25,222.37 424.88,222.35 427.50,222.20 C430.12,222.05 432.42,221.77 434.50,221.50 C436.58,221.23 437.67,220.97 440.00,220.60 C442.33,220.23 445.87,219.73 448.50,219.30 C451.13,218.87 453.72,218.55 455.80,218.00 C457.88,217.45 458.98,216.98 461.00,216.00 C463.02,215.02 465.90,213.35 467.90,212.10 C469.90,210.85 471.22,209.63 473.00,208.50 C474.78,207.37 476.50,206.72 478.60,205.30 C480.70,203.88 483.02,202.05 485.60,200.00 C488.18,197.95 491.22,195.62 494.10,193.00 C496.98,190.38 499.98,187.50 502.90,184.30 C505.82,181.10 508.98,177.02 511.60,173.80 C514.22,170.58 516.63,167.50 518.60,165.00 C520.57,162.50 521.15,161.58 523.40,158.80 C525.65,156.02 529.33,151.95 532.10,148.30 C534.87,144.65 537.80,139.95 540.00,136.90 C542.20,133.85 542.95,132.77 545.30,130.00 C547.65,127.23 551.07,123.60 554.10,120.30 C557.13,117.00 560.77,112.83 563.50,110.20 C566.23,107.57 568.18,106.18 570.50,104.50 C572.82,102.82 574.78,101.42 577.40,100.10 C580.02,98.78 583.28,97.62 586.20,96.60 C589.12,95.58 592.00,94.63 594.90,94.00 C597.80,93.37 600.70,93.08 603.60,92.80 C606.50,92.52 609.57,92.43 612.30,92.30 C615.03,92.17 615.38,92.05 620.00,92.00 C624.62,91.95 632.40,91.98 640.00,92.00 C647.60,92.02 661.33,92.08 665.60,92.10" fill="none" stroke="#000000" stroke-width="2.0" stroke-linejoin="round" stroke-linecap="butt"/>
<path d="M418.80,211.40 C419.97,211.25 424.05,210.70 425.80,210.50 C427.55,210.30 427.85,210.43 429.30,210.20 C430.75,209.97 433.05,209.48 434.50,209.10 C435.95,208.72 436.25,208.38 438.00,207.90 C439.75,207.42 442.95,206.78 445.00,206.20 C447.05,205.62 448.53,205.13 450.30,204.40 C452.07,203.67 453.85,202.53 455.60,201.80 C457.35,201.07 459.35,200.73 460.80,200.00 C462.25,199.27 462.25,198.85 464.30,197.40 C466.35,195.95 470.18,193.78 473.10,191.30 C476.02,188.82 478.92,185.72 481.80,182.50 C484.68,179.28 488.15,174.78 490.40,172.00 C492.65,169.22 493.32,167.85 495.30,165.80 C497.28,163.75 499.37,162.03 502.30,159.70 C505.23,157.37 509.38,154.58 512.90,151.80 C516.42,149.02 520.20,146.43 523.40,143.00 C526.60,139.57 529.33,134.83 532.10,131.20 C534.87,127.57 537.22,124.77 540.00,121.20 C542.78,117.63 545.87,113.03 548.80,109.80 C551.73,106.57 555.73,103.42 557.60,101.80 C559.47,100.18 558.15,101.83 560.00,100.10 C561.85,98.37 565.80,94.02 568.70,91.40 C571.60,88.78 574.48,86.43 577.40,84.40 C580.32,82.37 583.28,80.80 586.20,79.20 C589.12,77.60 592.00,76.12 594.90,74.80 C597.80,73.48 601.28,72.08 603.60,71.30 C605.92,70.52 606.07,70.58 608.80,70.10 C611.53,69.62 616.87,68.75 620.00,68.40 C623.13,68.05 623.42,68.27 627.60,68.00 C631.78,67.73 638.77,67.08 645.10,66.80 C651.43,66.52 662.18,66.38 665.60,66.30" fill="none" stroke="#ff00ff" stroke-width="2.0" stroke-linejoin="round" stroke-linecap="butt"/>
<path d="M418.80,196.50 C419.97,196.15 423.18,195.12 425.80,194.40 C428.42,193.68 431.30,193.30 434.50,192.20 C437.70,191.10 441.48,189.42 445.00,187.80 C448.52,186.18 452.08,184.25 455.60,182.50 C459.12,180.75 463.18,179.33 466.10,177.30 C469.02,175.27 471.12,172.27 473.10,170.30 C475.08,168.33 476.05,167.42 478.00,165.50 C479.95,163.58 482.50,161.23 484.80,158.80 C487.10,156.37 489.47,153.23 491.80,150.90 C494.13,148.57 496.17,146.98 498.80,144.80 C501.43,142.62 504.95,140.27 507.60,137.80 C510.25,135.33 512.20,132.63 514.70,130.00 C517.20,127.37 519.83,125.37 522.60,122.00 C525.37,118.63 528.38,113.58 531.30,109.80 C534.22,106.02 537.18,102.80 540.10,99.30 C543.02,95.80 545.88,92.02 548.80,88.80 C551.72,85.58 555.73,82.00 557.60,80.00 C559.47,78.00 558.15,78.67 560.00,76.80 C561.85,74.93 565.80,71.05 568.70,68.80 C571.60,66.55 575.02,64.78 577.40,63.30 C579.78,61.82 581.03,61.02 583.00,59.90 C584.97,58.78 587.28,57.50 589.20,56.60 C591.12,55.70 592.70,55.18 594.50,54.50 C596.30,53.82 598.28,53.02 600.00,52.50 C601.72,51.98 601.67,51.87 604.80,51.40 C607.93,50.93 613.53,50.20 618.80,49.70 C624.07,49.20 631.20,48.67 636.40,48.40 C641.60,48.13 645.13,48.13 650.00,48.10 C654.87,48.07 663.00,48.18 665.60,48.20" fill="none" stroke="#808000" stroke-width="2.0" stroke-linejoin="round" stroke-linecap="butt"/>
<path d="M418.80,177.60 C419.97,177.10 423.47,175.58 425.80,174.60 C428.13,173.62 430.18,172.72 432.80,171.70 C435.42,170.68 438.43,169.62 441.50,168.50 C444.57,167.38 448.37,166.47 451.20,165.00 C454.03,163.53 456.12,161.62 458.50,159.70 C460.88,157.78 463.15,155.55 465.50,153.50 C467.85,151.45 470.55,149.43 472.60,147.40 C474.65,145.37 476.05,143.35 477.80,141.30 C479.55,139.25 481.05,137.07 483.10,135.10 C485.15,133.13 487.32,131.68 490.10,129.50 C492.88,127.32 496.43,125.00 499.80,122.00 C503.17,119.00 507.08,115.00 510.30,111.50 C513.52,108.00 516.18,104.50 519.10,101.00 C522.02,97.50 524.88,94.00 527.80,90.50 C530.72,87.00 534.57,82.67 536.60,80.00 C538.63,77.33 538.23,76.87 540.00,74.50 C541.77,72.13 545.38,67.87 547.20,65.80 C549.02,63.73 549.42,63.50 550.90,62.10 C552.38,60.70 554.58,58.58 556.10,57.40 C557.62,56.22 558.48,56.08 560.00,55.00 C561.52,53.92 563.47,52.20 565.20,50.90 C566.93,49.60 568.65,48.25 570.40,47.20 C572.15,46.15 573.95,45.28 575.70,44.60 C577.45,43.92 579.17,43.58 580.90,43.10 C582.63,42.62 584.37,42.10 586.10,41.70 C587.83,41.30 588.98,41.05 591.30,40.70 C593.62,40.35 596.88,39.95 600.00,39.60 C603.12,39.25 606.87,38.88 610.00,38.60 C613.13,38.32 614.40,38.13 618.80,37.90 C623.20,37.67 631.20,37.35 636.40,37.20 C641.60,37.05 645.13,37.05 650.00,37.00 C654.87,36.95 663.00,36.92 665.60,36.90" fill="none" stroke="#ff8000" stroke-width="2.0" stroke-linejoin="round" stroke-linecap="butt"/>
<path d="M419.00,161.20 C420.63,160.80 425.72,159.78 428.80,158.80 C431.88,157.82 434.88,156.62 437.50,155.30 C440.12,153.98 442.17,152.28 444.50,150.90 C446.83,149.52 449.45,148.17 451.50,147.00 C453.55,145.83 455.05,145.30 456.80,143.90 C458.55,142.50 460.25,140.50 462.00,138.60 C463.75,136.70 465.97,134.10 467.30,132.50 C468.63,130.90 468.08,131.03 470.00,129.00 C471.92,126.97 475.88,123.22 478.80,120.30 C481.72,117.38 484.58,114.13 487.50,111.50 C490.42,108.87 493.38,106.98 496.30,104.50 C499.22,102.02 502.97,98.20 505.00,96.60 C507.03,95.00 507.03,96.20 508.50,94.90 C509.97,93.60 511.63,91.28 513.80,88.80 C515.97,86.32 519.30,82.72 521.50,80.00 C523.70,77.28 524.88,74.87 527.00,72.50 C529.12,70.13 532.30,67.70 534.20,65.80 C536.10,63.90 537.02,62.50 538.40,61.10 C539.78,59.70 541.12,58.53 542.50,57.40 C543.88,56.27 545.30,55.25 546.70,54.30 C548.10,53.35 549.33,52.67 550.90,51.70 C552.47,50.73 554.58,49.42 556.10,48.50 C557.62,47.58 558.48,47.02 560.00,46.20 C561.52,45.38 563.47,44.42 565.20,43.60 C566.93,42.78 568.65,41.97 570.40,41.30 C572.15,40.63 573.95,40.13 575.70,39.60 C577.45,39.07 579.17,38.52 580.90,38.10 C582.63,37.68 584.37,37.40 586.10,37.10 C587.83,36.80 588.98,36.62 591.30,36.30 C593.62,35.98 596.88,35.47 600.00,35.20 C603.12,34.93 606.87,34.87 610.00,34.70 C613.13,34.53 614.40,34.40 618.80,34.20 C623.20,34.00 631.20,33.68 636.40,33.50 C641.60,33.32 645.65,33.20 650.00,33.10 C654.35,33.00 660.42,32.93 662.50,32.90" fill="none" stroke="#008000" stroke-width="2.0" stroke-linejoin="round" stroke-linecap="butt"/>
</g>
<rect x="56.8" y="13.6" width="276.20" height="232.90" fill="none" stroke="#000" stroke-width="1.5"/>
<line x1="52.30" y1="246.50" x2="56.80" y2="246.50" stroke="#000" stroke-width="1.2"/>
<line x1="329.00" y1="246.50" x2="333.00" y2="246.50" stroke="#000" stroke-width="1.2"/>
<line x1="54.30" y1="239.49" x2="56.80" y2="239.49" stroke="#000" stroke-width="1"/>
<line x1="330.50" y1="239.49" x2="333.00" y2="239.49" stroke="#000" stroke-width="1"/>
<line x1="54.30" y1="235.39" x2="56.80" y2="235.39" stroke="#000" stroke-width="1"/>
<line x1="330.50" y1="235.39" x2="333.00" y2="235.39" stroke="#000" stroke-width="1"/>
<line x1="54.30" y1="232.48" x2="56.80" y2="232.48" stroke="#000" stroke-width="1"/>
<line x1="330.50" y1="232.48" x2="333.00" y2="232.48" stroke="#000" stroke-width="1"/>
<line x1="54.30" y1="230.22" x2="56.80" y2="230.22" stroke="#000" stroke-width="1"/>
<line x1="330.50" y1="230.22" x2="333.00" y2="230.22" stroke="#000" stroke-width="1"/>
<line x1="54.30" y1="228.38" x2="56.80" y2="228.38" stroke="#000" stroke-width="1"/>
<line x1="330.50" y1="228.38" x2="333.00" y2="228.38" stroke="#000" stroke-width="1"/>
<line x1="54.30" y1="226.82" x2="56.80" y2="226.82" stroke="#000" stroke-width="1"/>
<line x1="330.50" y1="226.82" x2="333.00" y2="226.82" stroke="#000" stroke-width="1"/>
<line x1="54.30" y1="225.47" x2="56.80" y2="225.47" stroke="#000" stroke-width="1"/>
<line x1="330.50" y1="225.47" x2="333.00" y2="225.47" stroke="#000" stroke-width="1"/>
<line x1="54.30" y1="224.28" x2="56.80" y2="224.28" stroke="#000" stroke-width="1"/>
<line x1="330.50" y1="224.28" x2="333.00" y2="224.28" stroke="#000" stroke-width="1"/>
<line x1="52.30" y1="223.21" x2="56.80" y2="223.21" stroke="#000" stroke-width="1.2"/>
<line x1="329.00" y1="223.21" x2="333.00" y2="223.21" stroke="#000" stroke-width="1.2"/>
<line x1="54.30" y1="216.20" x2="56.80" y2="216.20" stroke="#000" stroke-width="1"/>
<line x1="330.50" y1="216.20" x2="333.00" y2="216.20" stroke="#000" stroke-width="1"/>
<line x1="54.30" y1="212.10" x2="56.80" y2="212.10" stroke="#000" stroke-width="1"/>
<line x1="330.50" y1="212.10" x2="333.00" y2="212.10" stroke="#000" stroke-width="1"/>
<line x1="54.30" y1="209.19" x2="56.80" y2="209.19" stroke="#000" stroke-width="1"/>
<line x1="330.50" y1="209.19" x2="333.00" y2="209.19" stroke="#000" stroke-width="1"/>
<line x1="54.30" y1="206.93" x2="56.80" y2="206.93" stroke="#000" stroke-width="1"/>
<line x1="330.50" y1="206.93" x2="333.00" y2="206.93" stroke="#000" stroke-width="1"/>
<line x1="54.30" y1="205.09" x2="56.80" y2="205.09" stroke="#000" stroke-width="1"/>
<line x1="330.50" y1="205.09" x2="333.00" y2="205.09" stroke="#000" stroke-width="1"/>
<line x1="54.30" y1="203.53" x2="56.80" y2="203.53" stroke="#000" stroke-width="1"/>
<line x1="330.50" y1="203.53" x2="333.00" y2="203.53" stroke="#000" stroke-width="1"/>
<line x1="54.30" y1="202.18" x2="56.80" y2="202.18" stroke="#000" stroke-width="1"/>
<line x1="330.50" y1="202.18" x2="333.00" y2="202.18" stroke="#000" stroke-width="1"/>
<line x1="54.30" y1="200.99" x2="56.80" y2="200.99" stroke="#000" stroke-width="1"/>
<line x1="330.50" y1="200.99" x2="333.00" y2="200.99" stroke="#000" stroke-width="1"/>
<line x1="52.30" y1="199.92" x2="56.80" y2="199.92" stroke="#000" stroke-width="1.2"/>
<line x1="329.00" y1="199.92" x2="333.00" y2="199.92" stroke="#000" stroke-width="1.2"/>
<line x1="54.30" y1="192.91" x2="56.80" y2="192.91" stroke="#000" stroke-width="1"/>
<line x1="330.50" y1="192.91" x2="333.00" y2="192.91" stroke="#000" stroke-width="1"/>
<line x1="54.30" y1="188.81" x2="56.80" y2="188.81" stroke="#000" stroke-width="1"/>
<line x1="330.50" y1="188.81" x2="333.00" y2="188.81" stroke="#000" stroke-width="1"/>
<line x1="54.30" y1="185.90" x2="56.80" y2="185.90" stroke="#000" stroke-width="1"/>
<line x1="330.50" y1="185.90" x2="333.00" y2="185.90" stroke="#000" stroke-width="1"/>
<line x1="54.30" y1="183.64" x2="56.80" y2="183.64" stroke="#000" stroke-width="1"/>
<line x1="330.50" y1="183.64" x2="333.00" y2="183.64" stroke="#000" stroke-width="1"/>
<line x1="54.30" y1="181.80" x2="56.80" y2="181.80" stroke="#000" stroke-width="1"/>
<line x1="330.50" y1="181.80" x2="333.00" y2="181.80" stroke="#000" stroke-width="1"/>
<line x1="54.30" y1="180.24" x2="56.80" y2="180.24" stroke="#000" stroke-width="1"/>
<line x1="330.50" y1="180.24" x2="333.00" y2="180.24" stroke="#000" stroke-width="1"/>
<line x1="54.30" y1="178.89" x2="56.80" y2="178.89" stroke="#000" stroke-width="1"/>
<line x1="330.50" y1="178.89" x2="333.00" y2="178.89" stroke="#000" stroke-width="1"/>
<line x1="54.30" y1="177.70" x2="56.80" y2="177.70" stroke="#000" stroke-width="1"/>
<line x1="330.50" y1="177.70" x2="333.00" y2="177.70" stroke="#000" stroke-width="1"/>
<line x1="52.30" y1="176.63" x2="56.80" y2="176.63" stroke="#000" stroke-width="1.2"/>
<line x1="329.00" y1="176.63" x2="333.00" y2="176.63" stroke="#000" stroke-width="1.2"/>
<line x1="54.30" y1="169.62" x2="56.80" y2="169.62" stroke="#000" stroke-width="1"/>
<line x1="330.50" y1="169.62" x2="333.00" y2="169.62" stroke="#000" stroke-width="1"/>
<line x1="54.30" y1="165.52" x2="56.80" y2="165.52" stroke="#000" stroke-width="1"/>
<line x1="330.50" y1="165.52" x2="333.00" y2="165.52" stroke="#000" stroke-width="1"/>
<line x1="54.30" y1="162.61" x2="56.80" y2="162.61" stroke="#000" stroke-width="1"/>
<line x1="330.50" y1="162.61" x2="333.00" y2="162.61" stroke="#000" stroke-width="1"/>
<line x1="54.30" y1="160.35" x2="56.80" y2="160.35" stroke="#000" stroke-width="1"/>
<line x1="330.50" y1="160.35" x2="333.00" y2="160.35" stroke="#000" stroke-width="1"/>
<line x1="54.30" y1="158.51" x2="56.80" y2="158.51" stroke="#000" stroke-width="1"/>
<line x1="330.50" y1="158.51" x2="333.00" y2="158.51" stroke="#000" stroke-width="1"/>
<line x1="54.30" y1="156.95" x2="56.80" y2="156.95" stroke="#000" stroke-width="1"/>
<line x1="330.50" y1="156.95" x2="333.00" y2="156.95" stroke="#000" stroke-width="1"/>
<line x1="54.30" y1="155.60" x2="56.80" y2="155.60" stroke="#000" stroke-width="1"/>
<line x1="330.50" y1="155.60" x2="333.00" y2="155.60" stroke="#000" stroke-width="1"/>
<line x1="54.30" y1="154.41" x2="56.80" y2="154.41" stroke="#000" stroke-width="1"/>
<line x1="330.50" y1="154.41" x2="333.00" y2="154.41" stroke="#000" stroke-width="1"/>
<line x1="52.30" y1="153.34" x2="56.80" y2="153.34" stroke="#000" stroke-width="1.2"/>
<line x1="329.00" y1="153.34" x2="333.00" y2="153.34" stroke="#000" stroke-width="1.2"/>
<line x1="54.30" y1="146.33" x2="56.80" y2="146.33" stroke="#000" stroke-width="1"/>
<line x1="330.50" y1="146.33" x2="333.00" y2="146.33" stroke="#000" stroke-width="1"/>
<line x1="54.30" y1="142.23" x2="56.80" y2="142.23" stroke="#000" stroke-width="1"/>
<line x1="330.50" y1="142.23" x2="333.00" y2="142.23" stroke="#000" stroke-width="1"/>
<line x1="54.30" y1="139.32" x2="56.80" y2="139.32" stroke="#000" stroke-width="1"/>
<line x1="330.50" y1="139.32" x2="333.00" y2="139.32" stroke="#000" stroke-width="1"/>
<line x1="54.30" y1="137.06" x2="56.80" y2="137.06" stroke="#000" stroke-width="1"/>
<line x1="330.50" y1="137.06" x2="333.00" y2="137.06" stroke="#000" stroke-width="1"/>
<line x1="54.30" y1="135.22" x2="56.80" y2="135.22" stroke="#000" stroke-width="1"/>
<line x1="330.50" y1="135.22" x2="333.00" y2="135.22" stroke="#000" stroke-width="1"/>
<line x1="54.30" y1="133.66" x2="56.80" y2="133.66" stroke="#000" stroke-width="1"/>
<line x1="330.50" y1="133.66" x2="333.00" y2="133.66" stroke="#000" stroke-width="1"/>
<line x1="54.30" y1="132.31" x2="56.80" y2="132.31" stroke="#000" stroke-width="1"/>
<line x1="330.50" y1="132.31" x2="333.00" y2="132.31" stroke="#000" stroke-width="1"/>
<line x1="54.30" y1="131.12" x2="56.80" y2="131.12" stroke="#000" stroke-width="1"/>
<line x1="330.50" y1="131.12" x2="333.00" y2="131.12" stroke="#000" stroke-width="1"/>
<line x1="52.30" y1="130.05" x2="56.80" y2="130.05" stroke="#000" stroke-width="1.2"/>
<line x1="329.00" y1="130.05" x2="333.00" y2="130.05" stroke="#000" stroke-width="1.2"/>
<line x1="54.30" y1="123.04" x2="56.80" y2="123.04" stroke="#000" stroke-width="1"/>
<line x1="330.50" y1="123.04" x2="333.00" y2="123.04" stroke="#000" stroke-width="1"/>
<line x1="54.30" y1="118.94" x2="56.80" y2="118.94" stroke="#000" stroke-width="1"/>
<line x1="330.50" y1="118.94" x2="333.00" y2="118.94" stroke="#000" stroke-width="1"/>
<line x1="54.30" y1="116.03" x2="56.80" y2="116.03" stroke="#000" stroke-width="1"/>
<line x1="330.50" y1="116.03" x2="333.00" y2="116.03" stroke="#000" stroke-width="1"/>
<line x1="54.30" y1="113.77" x2="56.80" y2="113.77" stroke="#000" stroke-width="1"/>
<line x1="330.50" y1="113.77" x2="333.00" y2="113.77" stroke="#000" stroke-width="1"/>
<line x1="54.30" y1="111.93" x2="56.80" y2="111.93" stroke="#000" stroke-width="1"/>
<line x1="330.50" y1="111.93" x2="333.00" y2="111.93" stroke="#000" stroke-width="1"/>
<line x1="54.30" y1="110.37" x2="56.80" y2="110.37" stroke="#000" stroke-width="1"/>
<line x1="330.50" y1="110.37" x2="333.00" y2="110.37" stroke="#000" stroke-width="1"/>
<line x1="54.30" y1="109.02" x2="56.80" y2="109.02" stroke="#000" stroke-width="1"/>
<line x1="330.50" y1="109.02" x2="333.00" y2="109.02" stroke="#000" stroke-width="1"/>
<line x1="54.30" y1="107.83" x2="56.80" y2="107.83" stroke="#000" stroke-width="1"/>
<line x1="330.50" y1="107.83" x2="333.00" y2="107.83" stroke="#000" stroke-width="1"/>
<line x1="52.30" y1="106.76" x2="56.80" y2="106.76" stroke="#000" stroke-width="1.2"/>
<line x1="329.00" y1="106.76" x2="333.00" y2="106.76" stroke="#000" stroke-width="1.2"/>
<line x1="54.30" y1="99.75" x2="56.80" y2="99.75" stroke="#000" stroke-width="1"/>
<line x1="330.50" y1="99.75" x2="333.00" y2="99.75" stroke="#000" stroke-width="1"/>
<line x1="54.30" y1="95.65" x2="56.80" y2="95.65" stroke="#000" stroke-width="1"/>
<line x1="330.50" y1="95.65" x2="333.00" y2="95.65" stroke="#000" stroke-width="1"/>
<line x1="54.30" y1="92.74" x2="56.80" y2="92.74" stroke="#000" stroke-width="1"/>
<line x1="330.50" y1="92.74" x2="333.00" y2="92.74" stroke="#000" stroke-width="1"/>
<line x1="54.30" y1="90.48" x2="56.80" y2="90.48" stroke="#000" stroke-width="1"/>
<line x1="330.50" y1="90.48" x2="333.00" y2="90.48" stroke="#000" stroke-width="1"/>
<line x1="54.30" y1="88.64" x2="56.80" y2="88.64" stroke="#000" stroke-width="1"/>
<line x1="330.50" y1="88.64" x2="333.00" y2="88.64" stroke="#000" stroke-width="1"/>
<line x1="54.30" y1="87.08" x2="56.80" y2="87.08" stroke="#000" stroke-width="1"/>
<line x1="330.50" y1="87.08" x2="333.00" y2="87.08" stroke="#000" stroke-width="1"/>
<line x1="54.30" y1="85.73" x2="56.80" y2="85.73" stroke="#000" stroke-width="1"/>
<line x1="330.50" y1="85.73" x2="333.00" y2="85.73" stroke="#000" stroke-width="1"/>
<line x1="54.30" y1="84.54" x2="56.80" y2="84.54" stroke="#000" stroke-width="1"/>
<line x1="330.50" y1="84.54" x2="333.00" y2="84.54" stroke="#000" stroke-width="1"/>
<line x1="52.30" y1="83.47" x2="56.80" y2="83.47" stroke="#000" stroke-width="1.2"/>
<line x1="329.00" y1="83.47" x2="333.00" y2="83.47" stroke="#000" stroke-width="1.2"/>
<line x1="54.30" y1="76.46" x2="56.80" y2="76.46" stroke="#000" stroke-width="1"/>
<line x1="330.50" y1="76.46" x2="333.00" y2="76.46" stroke="#000" stroke-width="1"/>
<line x1="54.30" y1="72.36" x2="56.80" y2="72.36" stroke="#000" stroke-width="1"/>
<line x1="330.50" y1="72.36" x2="333.00" y2="72.36" stroke="#000" stroke-width="1"/>
<line x1="54.30" y1="69.45" x2="56.80" y2="69.45" stroke="#000" stroke-width="1"/>
<line x1="330.50" y1="69.45" x2="333.00" y2="69.45" stroke="#000" stroke-width="1"/>
<line x1="54.30" y1="67.19" x2="56.80" y2="67.19" stroke="#000" stroke-width="1"/>
<line x1="330.50" y1="67.19" x2="333.00" y2="67.19" stroke="#000" stroke-width="1"/>
<line x1="54.30" y1="65.35" x2="56.80" y2="65.35" stroke="#000" stroke-width="1"/>
<line x1="330.50" y1="65.35" x2="333.00" y2="65.35" stroke="#000" stroke-width="1"/>
<line x1="54.30" y1="63.79" x2="56.80" y2="63.79" stroke="#000" stroke-width="1"/>
<line x1="330.50" y1="63.79" x2="333.00" y2="63.79" stroke="#000" stroke-width="1"/>
<line x1="54.30" y1="62.44" x2="56.80" y2="62.44" stroke="#000" stroke-width="1"/>
<line x1="330.50" y1="62.44" x2="333.00" y2="62.44" stroke="#000" stroke-width="1"/>
<line x1="54.30" y1="61.25" x2="56.80" y2="61.25" stroke="#000" stroke-width="1"/>
<line x1="330.50" y1="61.25" x2="333.00" y2="61.25" stroke="#000" stroke-width="1"/>
<line x1="52.30" y1="60.18" x2="56.80" y2="60.18" stroke="#000" stroke-width="1.2"/>
<line x1="329.00" y1="60.18" x2="333.00" y2="60.18" stroke="#000" stroke-width="1.2"/>
<line x1="54.30" y1="53.17" x2="56.80" y2="53.17" stroke="#000" stroke-width="1"/>
<line x1="330.50" y1="53.17" x2="333.00" y2="53.17" stroke="#000" stroke-width="1"/>
<line x1="54.30" y1="49.07" x2="56.80" y2="49.07" stroke="#000" stroke-width="1"/>
<line x1="330.50" y1="49.07" x2="333.00" y2="49.07" stroke="#000" stroke-width="1"/>
<line x1="54.30" y1="46.16" x2="56.80" y2="46.16" stroke="#000" stroke-width="1"/>
<line x1="330.50" y1="46.16" x2="333.00" y2="46.16" stroke="#000" stroke-width="1"/>
<line x1="54.30" y1="43.90" x2="56.80" y2="43.90" stroke="#000" stroke-width="1"/>
<line x1="330.50" y1="43.90" x2="333.00" y2="43.90" stroke="#000" stroke-width="1"/>
<line x1="54.30" y1="42.06" x2="56.80" y2="42.06" stroke="#000" stroke-width="1"/>
<line x1="330.50" y1="42.06" x2="333.00" y2="42.06" stroke="#000" stroke-width="1"/>
<line x1="54.30" y1="40.50" x2="56.80" y2="40.50" stroke="#000" stroke-width="1"/>
<line x1="330.50" y1="40.50" x2="333.00" y2="40.50" stroke="#000" stroke-width="1"/>
<line x1="54.30" y1="39.15" x2="56.80" y2="39.15" stroke="#000" stroke-width="1"/>
<line x1="330.50" y1="39.15" x2="333.00" y2="39.15" stroke="#000" stroke-width="1"/>
<line x1="54.30" y1="37.96" x2="56.80" y2="37.96" stroke="#000" stroke-width="1"/>
<line x1="330.50" y1="37.96" x2="333.00" y2="37.96" stroke="#000" stroke-width="1"/>
<line x1="52.30" y1="36.89" x2="56.80" y2="36.89" stroke="#000" stroke-width="1.2"/>
<line x1="329.00" y1="36.89" x2="333.00" y2="36.89" stroke="#000" stroke-width="1.2"/>
<line x1="54.30" y1="29.88" x2="56.80" y2="29.88" stroke="#000" stroke-width="1"/>
<line x1="330.50" y1="29.88" x2="333.00" y2="29.88" stroke="#000" stroke-width="1"/>
<line x1="54.30" y1="25.78" x2="56.80" y2="25.78" stroke="#000" stroke-width="1"/>
<line x1="330.50" y1="25.78" x2="333.00" y2="25.78" stroke="#000" stroke-width="1"/>
<line x1="54.30" y1="22.87" x2="56.80" y2="22.87" stroke="#000" stroke-width="1"/>
<line x1="330.50" y1="22.87" x2="333.00" y2="22.87" stroke="#000" stroke-width="1"/>
<line x1="54.30" y1="20.61" x2="56.80" y2="20.61" stroke="#000" stroke-width="1"/>
<line x1="330.50" y1="20.61" x2="333.00" y2="20.61" stroke="#000" stroke-width="1"/>
<line x1="54.30" y1="18.77" x2="56.80" y2="18.77" stroke="#000" stroke-width="1"/>
<line x1="330.50" y1="18.77" x2="333.00" y2="18.77" stroke="#000" stroke-width="1"/>
<line x1="54.30" y1="17.21" x2="56.80" y2="17.21" stroke="#000" stroke-width="1"/>
<line x1="330.50" y1="17.21" x2="333.00" y2="17.21" stroke="#000" stroke-width="1"/>
<line x1="54.30" y1="15.86" x2="56.80" y2="15.86" stroke="#000" stroke-width="1"/>
<line x1="330.50" y1="15.86" x2="333.00" y2="15.86" stroke="#000" stroke-width="1"/>
<line x1="54.30" y1="14.67" x2="56.80" y2="14.67" stroke="#000" stroke-width="1"/>
<line x1="330.50" y1="14.67" x2="333.00" y2="14.67" stroke="#000" stroke-width="1"/>
<line x1="52.30" y1="13.60" x2="56.80" y2="13.60" stroke="#000" stroke-width="1.2"/>
<line x1="329.00" y1="13.60" x2="333.00" y2="13.60" stroke="#000" stroke-width="1.2"/>
<line x1="72.30" y1="246.50" x2="72.30" y2="251.00" stroke="#000" stroke-width="1.2"/>
<line x1="72.30" y1="13.60" x2="72.30" y2="18.10" stroke="#000" stroke-width="1.2"/>
<line x1="103.00" y1="246.50" x2="103.00" y2="249.00" stroke="#000" stroke-width="1.2"/>
<line x1="103.00" y1="13.60" x2="103.00" y2="16.10" stroke="#000" stroke-width="1.2"/>
<line x1="133.70" y1="246.50" x2="133.70" y2="251.00" stroke="#000" stroke-width="1.2"/>
<line x1="133.70" y1="13.60" x2="133.70" y2="18.10" stroke="#000" stroke-width="1.2"/>
<line x1="164.40" y1="246.50" x2="164.40" y2="249.00" stroke="#000" stroke-width="1.2"/>
<line x1="164.40" y1="13.60" x2="164.40" y2="16.10" stroke="#000" stroke-width="1.2"/>
<line x1="195.10" y1="246.50" x2="195.10" y2="251.00" stroke="#000" stroke-width="1.2"/>
<line x1="195.10" y1="13.60" x2="195.10" y2="18.10" stroke="#000" stroke-width="1.2"/>
<line x1="225.80" y1="246.50" x2="225.80" y2="249.00" stroke="#000" stroke-width="1.2"/>
<line x1="225.80" y1="13.60" x2="225.80" y2="16.10" stroke="#000" stroke-width="1.2"/>
<line x1="256.50" y1="246.50" x2="256.50" y2="251.00" stroke="#000" stroke-width="1.2"/>
<line x1="256.50" y1="13.60" x2="256.50" y2="18.10" stroke="#000" stroke-width="1.2"/>
<line x1="287.20" y1="246.50" x2="287.20" y2="249.00" stroke="#000" stroke-width="1.2"/>
<line x1="287.20" y1="13.60" x2="287.20" y2="16.10" stroke="#000" stroke-width="1.2"/>
<line x1="317.90" y1="246.50" x2="317.90" y2="251.00" stroke="#000" stroke-width="1.2"/>
<line x1="317.90" y1="13.60" x2="317.90" y2="18.10" stroke="#000" stroke-width="1.2"/>
<rect x="403.3" y="13.5" width="276.70" height="233.70" fill="none" stroke="#000" stroke-width="1.5"/>
<line x1="398.80" y1="247.20" x2="403.30" y2="247.20" stroke="#000" stroke-width="1.2"/>
<line x1="676.00" y1="247.20" x2="680.00" y2="247.20" stroke="#000" stroke-width="1.2"/>
<line x1="400.80" y1="239.38" x2="403.30" y2="239.38" stroke="#000" stroke-width="1"/>
<line x1="677.50" y1="239.38" x2="680.00" y2="239.38" stroke="#000" stroke-width="1"/>
<line x1="400.80" y1="234.81" x2="403.30" y2="234.81" stroke="#000" stroke-width="1"/>
<line x1="677.50" y1="234.81" x2="680.00" y2="234.81" stroke="#000" stroke-width="1"/>
<line x1="400.80" y1="231.57" x2="403.30" y2="231.57" stroke="#000" stroke-width="1"/>
<line x1="677.50" y1="231.57" x2="680.00" y2="231.57" stroke="#000" stroke-width="1"/>
<line x1="400.80" y1="229.05" x2="403.30" y2="229.05" stroke="#000" stroke-width="1"/>
<line x1="677.50" y1="229.05" x2="680.00" y2="229.05" stroke="#000" stroke-width="1"/>
<line x1="400.80" y1="226.99" x2="403.30" y2="226.99" stroke="#000" stroke-width="1"/>
<line x1="677.50" y1="226.99" x2="680.00" y2="226.99" stroke="#000" stroke-width="1"/>
<line x1="400.80" y1="225.26" x2="403.30" y2="225.26" stroke="#000" stroke-width="1"/>
<line x1="677.50" y1="225.26" x2="680.00" y2="225.26" stroke="#000" stroke-width="1"/>
<line x1="400.80" y1="223.75" x2="403.30" y2="223.75" stroke="#000" stroke-width="1"/>
<line x1="677.50" y1="223.75" x2="680.00" y2="223.75" stroke="#000" stroke-width="1"/>
<line x1="400.80" y1="222.42" x2="403.30" y2="222.42" stroke="#000" stroke-width="1"/>
<line x1="677.50" y1="222.42" x2="680.00" y2="222.42" stroke="#000" stroke-width="1"/>
<line x1="398.80" y1="221.23" x2="403.30" y2="221.23" stroke="#000" stroke-width="1.2"/>
<line x1="676.00" y1="221.23" x2="680.00" y2="221.23" stroke="#000" stroke-width="1.2"/>
<line x1="400.80" y1="213.42" x2="403.30" y2="213.42" stroke="#000" stroke-width="1"/>
<line x1="677.50" y1="213.42" x2="680.00" y2="213.42" stroke="#000" stroke-width="1"/>
<line x1="400.80" y1="208.84" x2="403.30" y2="208.84" stroke="#000" stroke-width="1"/>
<line x1="677.50" y1="208.84" x2="680.00" y2="208.84" stroke="#000" stroke-width="1"/>
<line x1="400.80" y1="205.60" x2="403.30" y2="205.60" stroke="#000" stroke-width="1"/>
<line x1="677.50" y1="205.60" x2="680.00" y2="205.60" stroke="#000" stroke-width="1"/>
<line x1="400.80" y1="203.08" x2="403.30" y2="203.08" stroke="#000" stroke-width="1"/>
<line x1="677.50" y1="203.08" x2="680.00" y2="203.08" stroke="#000" stroke-width="1"/>
<line x1="400.80" y1="201.03" x2="403.30" y2="201.03" stroke="#000" stroke-width="1"/>
<line x1="677.50" y1="201.03" x2="680.00" y2="201.03" stroke="#000" stroke-width="1"/>
<line x1="400.80" y1="199.29" x2="403.30" y2="199.29" stroke="#000" stroke-width="1"/>
<line x1="677.50" y1="199.29" x2="680.00" y2="199.29" stroke="#000" stroke-width="1"/>
<line x1="400.80" y1="197.78" x2="403.30" y2="197.78" stroke="#000" stroke-width="1"/>
<line x1="677.50" y1="197.78" x2="680.00" y2="197.78" stroke="#000" stroke-width="1"/>
<line x1="400.80" y1="196.45" x2="403.30" y2="196.45" stroke="#000" stroke-width="1"/>
<line x1="677.50" y1="196.45" x2="680.00" y2="196.45" stroke="#000" stroke-width="1"/>
<line x1="398.80" y1="195.27" x2="403.30" y2="195.27" stroke="#000" stroke-width="1.2"/>
<line x1="676.00" y1="195.27" x2="680.00" y2="195.27" stroke="#000" stroke-width="1.2"/>
<line x1="400.80" y1="187.45" x2="403.30" y2="187.45" stroke="#000" stroke-width="1"/>
<line x1="677.50" y1="187.45" x2="680.00" y2="187.45" stroke="#000" stroke-width="1"/>
<line x1="400.80" y1="182.88" x2="403.30" y2="182.88" stroke="#000" stroke-width="1"/>
<line x1="677.50" y1="182.88" x2="680.00" y2="182.88" stroke="#000" stroke-width="1"/>
<line x1="400.80" y1="179.63" x2="403.30" y2="179.63" stroke="#000" stroke-width="1"/>
<line x1="677.50" y1="179.63" x2="680.00" y2="179.63" stroke="#000" stroke-width="1"/>
<line x1="400.80" y1="177.12" x2="403.30" y2="177.12" stroke="#000" stroke-width="1"/>
<line x1="677.50" y1="177.12" x2="680.00" y2="177.12" stroke="#000" stroke-width="1"/>
<line x1="400.80" y1="175.06" x2="403.30" y2="175.06" stroke="#000" stroke-width="1"/>
<line x1="677.50" y1="175.06" x2="680.00" y2="175.06" stroke="#000" stroke-width="1"/>
<line x1="400.80" y1="173.32" x2="403.30" y2="173.32" stroke="#000" stroke-width="1"/>
<line x1="677.50" y1="173.32" x2="680.00" y2="173.32" stroke="#000" stroke-width="1"/>
<line x1="400.80" y1="171.82" x2="403.30" y2="171.82" stroke="#000" stroke-width="1"/>
<line x1="677.50" y1="171.82" x2="680.00" y2="171.82" stroke="#000" stroke-width="1"/>
<line x1="400.80" y1="170.49" x2="403.30" y2="170.49" stroke="#000" stroke-width="1"/>
<line x1="677.50" y1="170.49" x2="680.00" y2="170.49" stroke="#000" stroke-width="1"/>
<line x1="398.80" y1="169.30" x2="403.30" y2="169.30" stroke="#000" stroke-width="1.2"/>
<line x1="676.00" y1="169.30" x2="680.00" y2="169.30" stroke="#000" stroke-width="1.2"/>
<line x1="400.80" y1="161.48" x2="403.30" y2="161.48" stroke="#000" stroke-width="1"/>
<line x1="677.50" y1="161.48" x2="680.00" y2="161.48" stroke="#000" stroke-width="1"/>
<line x1="400.80" y1="156.91" x2="403.30" y2="156.91" stroke="#000" stroke-width="1"/>
<line x1="677.50" y1="156.91" x2="680.00" y2="156.91" stroke="#000" stroke-width="1"/>
<line x1="400.80" y1="153.67" x2="403.30" y2="153.67" stroke="#000" stroke-width="1"/>
<line x1="677.50" y1="153.67" x2="680.00" y2="153.67" stroke="#000" stroke-width="1"/>
<line x1="400.80" y1="151.15" x2="403.30" y2="151.15" stroke="#000" stroke-width="1"/>
<line x1="677.50" y1="151.15" x2="680.00" y2="151.15" stroke="#000" stroke-width="1"/>
<line x1="400.80" y1="149.09" x2="403.30" y2="149.09" stroke="#000" stroke-width="1"/>
<line x1="677.50" y1="149.09" x2="680.00" y2="149.09" stroke="#000" stroke-width="1"/>
<line x1="400.80" y1="147.36" x2="403.30" y2="147.36" stroke="#000" stroke-width="1"/>
<line x1="677.50" y1="147.36" x2="680.00" y2="147.36" stroke="#000" stroke-width="1"/>
<line x1="400.80" y1="145.85" x2="403.30" y2="145.85" stroke="#000" stroke-width="1"/>
<line x1="677.50" y1="145.85" x2="680.00" y2="145.85" stroke="#000" stroke-width="1"/>
<line x1="400.80" y1="144.52" x2="403.30" y2="144.52" stroke="#000" stroke-width="1"/>
<line x1="677.50" y1="144.52" x2="680.00" y2="144.52" stroke="#000" stroke-width="1"/>
<line x1="398.80" y1="143.33" x2="403.30" y2="143.33" stroke="#000" stroke-width="1.2"/>
<line x1="676.00" y1="143.33" x2="680.00" y2="143.33" stroke="#000" stroke-width="1.2"/>
<line x1="400.80" y1="135.52" x2="403.30" y2="135.52" stroke="#000" stroke-width="1"/>
<line x1="677.50" y1="135.52" x2="680.00" y2="135.52" stroke="#000" stroke-width="1"/>
<line x1="400.80" y1="130.94" x2="403.30" y2="130.94" stroke="#000" stroke-width="1"/>
<line x1="677.50" y1="130.94" x2="680.00" y2="130.94" stroke="#000" stroke-width="1"/>
<line x1="400.80" y1="127.70" x2="403.30" y2="127.70" stroke="#000" stroke-width="1"/>
<line x1="677.50" y1="127.70" x2="680.00" y2="127.70" stroke="#000" stroke-width="1"/>
<line x1="400.80" y1="125.18" x2="403.30" y2="125.18" stroke="#000" stroke-width="1"/>
<line x1="677.50" y1="125.18" x2="680.00" y2="125.18" stroke="#000" stroke-width="1"/>
<line x1="400.80" y1="123.13" x2="403.30" y2="123.13" stroke="#000" stroke-width="1"/>
<line x1="677.50" y1="123.13" x2="680.00" y2="123.13" stroke="#000" stroke-width="1"/>
<line x1="400.80" y1="121.39" x2="403.30" y2="121.39" stroke="#000" stroke-width="1"/>
<line x1="677.50" y1="121.39" x2="680.00" y2="121.39" stroke="#000" stroke-width="1"/>
<line x1="400.80" y1="119.88" x2="403.30" y2="119.88" stroke="#000" stroke-width="1"/>
<line x1="677.50" y1="119.88" x2="680.00" y2="119.88" stroke="#000" stroke-width="1"/>
<line x1="400.80" y1="118.55" x2="403.30" y2="118.55" stroke="#000" stroke-width="1"/>
<line x1="677.50" y1="118.55" x2="680.00" y2="118.55" stroke="#000" stroke-width="1"/>
<line x1="398.80" y1="117.37" x2="403.30" y2="117.37" stroke="#000" stroke-width="1.2"/>
<line x1="676.00" y1="117.37" x2="680.00" y2="117.37" stroke="#000" stroke-width="1.2"/>
<line x1="400.80" y1="109.55" x2="403.30" y2="109.55" stroke="#000" stroke-width="1"/>
<line x1="677.50" y1="109.55" x2="680.00" y2="109.55" stroke="#000" stroke-width="1"/>
<line x1="400.80" y1="104.98" x2="403.30" y2="104.98" stroke="#000" stroke-width="1"/>
<line x1="677.50" y1="104.98" x2="680.00" y2="104.98" stroke="#000" stroke-width="1"/>
<line x1="400.80" y1="101.73" x2="403.30" y2="101.73" stroke="#000" stroke-width="1"/>
<line x1="677.50" y1="101.73" x2="680.00" y2="101.73" stroke="#000" stroke-width="1"/>
<line x1="400.80" y1="99.22" x2="403.30" y2="99.22" stroke="#000" stroke-width="1"/>
<line x1="677.50" y1="99.22" x2="680.00" y2="99.22" stroke="#000" stroke-width="1"/>
<line x1="400.80" y1="97.16" x2="403.30" y2="97.16" stroke="#000" stroke-width="1"/>
<line x1="677.50" y1="97.16" x2="680.00" y2="97.16" stroke="#000" stroke-width="1"/>
<line x1="400.80" y1="95.42" x2="403.30" y2="95.42" stroke="#000" stroke-width="1"/>
<line x1="677.50" y1="95.42" x2="680.00" y2="95.42" stroke="#000" stroke-width="1"/>
<line x1="400.80" y1="93.92" x2="403.30" y2="93.92" stroke="#000" stroke-width="1"/>
<line x1="677.50" y1="93.92" x2="680.00" y2="93.92" stroke="#000" stroke-width="1"/>
<line x1="400.80" y1="92.59" x2="403.30" y2="92.59" stroke="#000" stroke-width="1"/>
<line x1="677.50" y1="92.59" x2="680.00" y2="92.59" stroke="#000" stroke-width="1"/>
<line x1="398.80" y1="91.40" x2="403.30" y2="91.40" stroke="#000" stroke-width="1.2"/>
<line x1="676.00" y1="91.40" x2="680.00" y2="91.40" stroke="#000" stroke-width="1.2"/>
<line x1="400.80" y1="83.58" x2="403.30" y2="83.58" stroke="#000" stroke-width="1"/>
<line x1="677.50" y1="83.58" x2="680.00" y2="83.58" stroke="#000" stroke-width="1"/>
<line x1="400.80" y1="79.01" x2="403.30" y2="79.01" stroke="#000" stroke-width="1"/>
<line x1="677.50" y1="79.01" x2="680.00" y2="79.01" stroke="#000" stroke-width="1"/>
<line x1="400.80" y1="75.77" x2="403.30" y2="75.77" stroke="#000" stroke-width="1"/>
<line x1="677.50" y1="75.77" x2="680.00" y2="75.77" stroke="#000" stroke-width="1"/>
<line x1="400.80" y1="73.25" x2="403.30" y2="73.25" stroke="#000" stroke-width="1"/>
<line x1="677.50" y1="73.25" x2="680.00" y2="73.25" stroke="#000" stroke-width="1"/>
<line x1="400.80" y1="71.19" x2="403.30" y2="71.19" stroke="#000" stroke-width="1"/>
<line x1="677.50" y1="71.19" x2="680.00" y2="71.19" stroke="#000" stroke-width="1"/>
<line x1="400.80" y1="69.46" x2="403.30" y2="69.46" stroke="#000" stroke-width="1"/>
<line x1="677.50" y1="69.46" x2="680.00" y2="69.46" stroke="#000" stroke-width="1"/>
<line x1="400.80" y1="67.95" x2="403.30" y2="67.95" stroke="#000" stroke-width="1"/>
<line x1="677.50" y1="67.95" x2="680.00" y2="67.95" stroke="#000" stroke-width="1"/>
<line x1="400.80" y1="66.62" x2="403.30" y2="66.62" stroke="#000" stroke-width="1"/>
<line x1="677.50" y1="66.62" x2="680.00" y2="66.62" stroke="#000" stroke-width="1"/>
<line x1="398.80" y1="65.43" x2="403.30" y2="65.43" stroke="#000" stroke-width="1.2"/>
<line x1="676.00" y1="65.43" x2="680.00" y2="65.43" stroke="#000" stroke-width="1.2"/>
<line x1="400.80" y1="57.62" x2="403.30" y2="57.62" stroke="#000" stroke-width="1"/>
<line x1="677.50" y1="57.62" x2="680.00" y2="57.62" stroke="#000" stroke-width="1"/>
<line x1="400.80" y1="53.04" x2="403.30" y2="53.04" stroke="#000" stroke-width="1"/>
<line x1="677.50" y1="53.04" x2="680.00" y2="53.04" stroke="#000" stroke-width="1"/>
<line x1="400.80" y1="49.80" x2="403.30" y2="49.80" stroke="#000" stroke-width="1"/>
<line x1="677.50" y1="49.80" x2="680.00" y2="49.80" stroke="#000" stroke-width="1"/>
<line x1="400.80" y1="47.28" x2="403.30" y2="47.28" stroke="#000" stroke-width="1"/>
<line x1="677.50" y1="47.28" x2="680.00" y2="47.28" stroke="#000" stroke-width="1"/>
<line x1="400.80" y1="45.23" x2="403.30" y2="45.23" stroke="#000" stroke-width="1"/>
<line x1="677.50" y1="45.23" x2="680.00" y2="45.23" stroke="#000" stroke-width="1"/>
<line x1="400.80" y1="43.49" x2="403.30" y2="43.49" stroke="#000" stroke-width="1"/>
<line x1="677.50" y1="43.49" x2="680.00" y2="43.49" stroke="#000" stroke-width="1"/>
<line x1="400.80" y1="41.98" x2="403.30" y2="41.98" stroke="#000" stroke-width="1"/>
<line x1="677.50" y1="41.98" x2="680.00" y2="41.98" stroke="#000" stroke-width="1"/>
<line x1="400.80" y1="40.65" x2="403.30" y2="40.65" stroke="#000" stroke-width="1"/>
<line x1="677.50" y1="40.65" x2="680.00" y2="40.65" stroke="#000" stroke-width="1"/>
<line x1="398.80" y1="39.47" x2="403.30" y2="39.47" stroke="#000" stroke-width="1.2"/>
<line x1="676.00" y1="39.47" x2="680.00" y2="39.47" stroke="#000" stroke-width="1.2"/>
<line x1="400.80" y1="31.65" x2="403.30" y2="31.65" stroke="#000" stroke-width="1"/>
<line x1="677.50" y1="31.65" x2="680.00" y2="31.65" stroke="#000" stroke-width="1"/>
<line x1="400.80" y1="27.08" x2="403.30" y2="27.08" stroke="#000" stroke-width="1"/>
<line x1="677.50" y1="27.08" x2="680.00" y2="27.08" stroke="#000" stroke-width="1"/>
<line x1="400.80" y1="23.83" x2="403.30" y2="23.83" stroke="#000" stroke-width="1"/>
<line x1="677.50" y1="23.83" x2="680.00" y2="23.83" stroke="#000" stroke-width="1"/>
<line x1="400.80" y1="21.32" x2="403.30" y2="21.32" stroke="#000" stroke-width="1"/>
<line x1="677.50" y1="21.32" x2="680.00" y2="21.32" stroke="#000" stroke-width="1"/>
<line x1="400.80" y1="19.26" x2="403.30" y2="19.26" stroke="#000" stroke-width="1"/>
<line x1="677.50" y1="19.26" x2="680.00" y2="19.26" stroke="#000" stroke-width="1"/>
<line x1="400.80" y1="17.52" x2="403.30" y2="17.52" stroke="#000" stroke-width="1"/>
<line x1="677.50" y1="17.52" x2="680.00" y2="17.52" stroke="#000" stroke-width="1"/>
<line x1="400.80" y1="16.02" x2="403.30" y2="16.02" stroke="#000" stroke-width="1"/>
<line x1="677.50" y1="16.02" x2="680.00" y2="16.02" stroke="#000" stroke-width="1"/>
<line x1="400.80" y1="14.69" x2="403.30" y2="14.69" stroke="#000" stroke-width="1"/>
<line x1="677.50" y1="14.69" x2="680.00" y2="14.69" stroke="#000" stroke-width="1"/>
<line x1="398.80" y1="13.50" x2="403.30" y2="13.50" stroke="#000" stroke-width="1.2"/>
<line x1="676.00" y1="13.50" x2="680.00" y2="13.50" stroke="#000" stroke-width="1.2"/>
<line x1="419.20" y1="247.20" x2="419.20" y2="251.70" stroke="#000" stroke-width="1.2"/>
<line x1="419.20" y1="13.50" x2="419.20" y2="18.00" stroke="#000" stroke-width="1.2"/>
<line x1="450.00" y1="247.20" x2="450.00" y2="249.70" stroke="#000" stroke-width="1.2"/>
<line x1="450.00" y1="13.50" x2="450.00" y2="16.00" stroke="#000" stroke-width="1.2"/>
<line x1="480.80" y1="247.20" x2="480.80" y2="251.70" stroke="#000" stroke-width="1.2"/>
<line x1="480.80" y1="13.50" x2="480.80" y2="18.00" stroke="#000" stroke-width="1.2"/>
<line x1="511.60" y1="247.20" x2="511.60" y2="249.70" stroke="#000" stroke-width="1.2"/>
<line x1="511.60" y1="13.50" x2="511.60" y2="16.00" stroke="#000" stroke-width="1.2"/>
<line x1="542.40" y1="247.20" x2="542.40" y2="251.70" stroke="#000" stroke-width="1.2"/>
<line x1="542.40" y1="13.50" x2="542.40" y2="18.00" stroke="#000" stroke-width="1.2"/>
<line x1="573.20" y1="247.20" x2="573.20" y2="249.70" stroke="#000" stroke-width="1.2"/>
<line x1="573.20" y1="13.50" x2="573.20" y2="16.00" stroke="#000" stroke-width="1.2"/>
<line x1="604.00" y1="247.20" x2="604.00" y2="251.70" stroke="#000" stroke-width="1.2"/>
<line x1="604.00" y1="13.50" x2="604.00" y2="18.00" stroke="#000" stroke-width="1.2"/>
<line x1="634.80" y1="247.20" x2="634.80" y2="249.70" stroke="#000" stroke-width="1.2"/>
<line x1="634.80" y1="13.50" x2="634.80" y2="16.00" stroke="#000" stroke-width="1.2"/>
<line x1="665.60" y1="247.20" x2="665.60" y2="251.70" stroke="#000" stroke-width="1.2"/>
<line x1="665.60" y1="13.50" x2="665.60" y2="18.00" stroke="#000" stroke-width="1.2"/>
<text x="49.10" y="245.00" font-size="10" text-anchor="end">-15</text>
<text x="34.95" y="251.10" font-size="14" text-anchor="end">10</text>
<text x="49.10" y="221.71" font-size="10" text-anchor="end">-14</text>
<text x="34.95" y="227.81" font-size="14" text-anchor="end">10</text>
<text x="49.10" y="198.42" font-size="10" text-anchor="end">-13</text>
<text x="34.95" y="204.52" font-size="14" text-anchor="end">10</text>
<text x="49.10" y="175.13" font-size="10" text-anchor="end">-12</text>
<text x="34.95" y="181.23" font-size="14" text-anchor="end">10</text>
<text x="49.10" y="151.84" font-size="10" text-anchor="end">-11</text>
<text x="34.95" y="157.94" font-size="14" text-anchor="end">10</text>
<text x="49.10" y="128.55" font-size="10" text-anchor="end">-10</text>
<text x="34.95" y="134.65" font-size="14" text-anchor="end">10</text>
<text x="49.10" y="105.26" font-size="10" text-anchor="end">-9</text>
<text x="40.51" y="111.36" font-size="14" text-anchor="end">10</text>
<text x="49.10" y="81.97" font-size="10" text-anchor="end">-8</text>
<text x="40.51" y="88.07" font-size="14" text-anchor="end">10</text>
<text x="49.10" y="58.68" font-size="10" text-anchor="end">-7</text>
<text x="40.51" y="64.78" font-size="14" text-anchor="end">10</text>
<text x="49.10" y="35.39" font-size="10" text-anchor="end">-6</text>
<text x="40.51" y="41.49" font-size="14" text-anchor="end">10</text>
<text x="49.10" y="12.10" font-size="10" text-anchor="end">-5</text>
<text x="40.51" y="18.20" font-size="14" text-anchor="end">10</text>
<text x="72.10" y="266.0" font-size="14" text-anchor="middle">-4</text>
<text x="133.50" y="266.0" font-size="14" text-anchor="middle">-2</text>
<text x="195.10" y="266.0" font-size="14" text-anchor="middle">0</text>
<text x="256.50" y="266.0" font-size="14" text-anchor="middle">2</text>
<text x="317.90" y="266.0" font-size="14" text-anchor="middle">4</text>
<text x="394.90" y="245.70" font-size="10" text-anchor="end">-14</text>
<text x="380.75" y="251.80" font-size="14" text-anchor="end">10</text>
<text x="394.90" y="219.73" font-size="10" text-anchor="end">-13</text>
<text x="380.75" y="225.83" font-size="14" text-anchor="end">10</text>
<text x="394.90" y="193.77" font-size="10" text-anchor="end">-12</text>
<text x="380.75" y="199.87" font-size="14" text-anchor="end">10</text>
<text x="394.90" y="167.80" font-size="10" text-anchor="end">-11</text>
<text x="380.75" y="173.90" font-size="14" text-anchor="end">10</text>
<text x="394.90" y="141.83" font-size="10" text-anchor="end">-10</text>
<text x="380.75" y="147.93" font-size="14" text-anchor="end">10</text>
<text x="394.90" y="115.87" font-size="10" text-anchor="end">-9</text>
<text x="386.31" y="121.97" font-size="14" text-anchor="end">10</text>
<text x="394.90" y="89.90" font-size="10" text-anchor="end">-8</text>
<text x="386.31" y="96.00" font-size="14" text-anchor="end">10</text>
<text x="394.90" y="63.93" font-size="10" text-anchor="end">-7</text>
<text x="386.31" y="70.03" font-size="14" text-anchor="end">10</text>
<text x="394.90" y="37.97" font-size="10" text-anchor="end">-6</text>
<text x="386.31" y="44.07" font-size="14" text-anchor="end">10</text>
<text x="394.90" y="12.00" font-size="10" text-anchor="end">-5</text>
<text x="386.31" y="18.10" font-size="14" text-anchor="end">10</text>
<text x="419.00" y="266.0" font-size="14" text-anchor="middle">-4</text>
<text x="480.60" y="266.0" font-size="14" text-anchor="middle">-2</text>
<text x="542.40" y="266.0" font-size="14" text-anchor="middle">0</text>
<text x="604.00" y="266.0" font-size="14" text-anchor="middle">2</text>
<text x="665.60" y="266.0" font-size="14" text-anchor="middle">4</text>
<rect x="60.4" y="37.3" width="93.00" height="123.90" fill="#fff" stroke="#5a5a5a" stroke-width="1.2"/>
<line x1="61" y1="45.60" x2="90" y2="45.60" stroke="#000000" stroke-width="2.1"/>
<text x="93.00" y="49.60" font-size="13" font-style="italic">V</text>
<text x="100.50" y="52.60" font-size="8.8" font-style="italic">BG</text>
<text transform="translate(115.80,49.60) scale(0.93,1)" font-size="13.26">= 0 V</text>
<line x1="61" y1="63.13" x2="90" y2="63.13" stroke="#0000ff" stroke-width="2.1"/>
<text x="93.00" y="67.13" font-size="13" font-style="italic">V</text>
<text x="100.50" y="70.13" font-size="8.8" font-style="italic">BG</text>
<text transform="translate(115.80,67.13) scale(0.93,1)" font-size="13.26">= 2 V</text>
<line x1="61" y1="80.66" x2="90" y2="80.66" stroke="#ff00ff" stroke-width="2.1"/>
<text x="93.00" y="84.66" font-size="13" font-style="italic">V</text>
<text x="100.50" y="87.66" font-size="8.8" font-style="italic">BG</text>
<text transform="translate(115.80,84.66) scale(0.93,1)" font-size="13.26">= 4 V</text>
<line x1="61" y1="98.19" x2="90" y2="98.19" stroke="#808000" stroke-width="2.1"/>
<text x="93.00" y="102.19" font-size="13" font-style="italic">V</text>
<text x="100.50" y="105.19" font-size="8.8" font-style="italic">BG</text>
<text transform="translate(115.80,102.19) scale(0.93,1)" font-size="13.26">= 6 V</text>
<line x1="61" y1="115.72" x2="90" y2="115.72" stroke="#ff8000" stroke-width="2.1"/>
<text x="93.00" y="119.72" font-size="13" font-style="italic">V</text>
<text x="100.50" y="122.72" font-size="8.8" font-style="italic">BG</text>
<text transform="translate(115.80,119.72) scale(0.93,1)" font-size="13.26">= 8 V</text>
<line x1="61" y1="133.25" x2="90" y2="133.25" stroke="#008000" stroke-width="2.1"/>
<text x="93.00" y="137.25" font-size="13" font-style="italic">V</text>
<text x="100.50" y="140.25" font-size="8.8" font-style="italic">BG</text>
<text transform="translate(115.80,137.25) scale(0.93,1)" font-size="13.26">= 10 V</text>
<line x1="61" y1="150.78" x2="90" y2="150.78" stroke="#ff0000" stroke-width="2.1"/>
<text x="93.00" y="154.78" font-size="13" font-style="italic">V</text>
<text x="100.50" y="157.78" font-size="8.8" font-style="italic">BG</text>
<text transform="translate(115.80,154.78) scale(0.93,1)" font-size="13.26">= 17 V</text>
<rect x="405.3" y="33.3" width="79.20" height="76.10" fill="#fff" stroke="#5a5a5a" stroke-width="1.2"/>
<line x1="406" y1="40.60" x2="431" y2="40.60" stroke="#000000" stroke-width="2.1"/>
<text x="433.30" y="44.00" font-size="10.3" font-style="italic">V</text>
<text x="440.30" y="47.00" font-size="7.4" font-style="italic">BG</text>
<text transform="translate(452.60,44.00) scale(1.0,1)" font-size="10.30">= 0 V</text>
<line x1="406" y1="55.57" x2="431" y2="55.57" stroke="#ff00ff" stroke-width="2.1"/>
<text x="433.30" y="58.97" font-size="10.3" font-style="italic">V</text>
<text x="440.30" y="61.97" font-size="7.4" font-style="italic">BG</text>
<text transform="translate(452.60,58.97) scale(1.0,1)" font-size="10.30">= 4 V</text>
<line x1="406" y1="70.54" x2="431" y2="70.54" stroke="#808000" stroke-width="2.1"/>
<text x="433.30" y="73.94" font-size="10.3" font-style="italic">V</text>
<text x="440.30" y="76.94" font-size="7.4" font-style="italic">BG</text>
<text transform="translate(452.60,73.94) scale(1.0,1)" font-size="10.30">= 6 V</text>
<line x1="406" y1="85.51" x2="431" y2="85.51" stroke="#ff8000" stroke-width="2.1"/>
<text x="433.30" y="88.91" font-size="10.3" font-style="italic">V</text>
<text x="440.30" y="91.91" font-size="7.4" font-style="italic">BG</text>
<text transform="translate(452.60,88.91) scale(1.0,1)" font-size="10.30">= 8 V</text>
<line x1="406" y1="100.48" x2="431" y2="100.48" stroke="#008000" stroke-width="2.1"/>
<text x="433.30" y="103.88" font-size="10.3" font-style="italic">V</text>
<text x="440.30" y="106.88" font-size="7.4" font-style="italic">BG</text>
<text transform="translate(452.60,103.88) scale(1.0,1)" font-size="10.30">= 10 V</text>
<text x="60.60" y="27.80" font-size="17" text-anchor="start">a) GeSn</text>
<text x="408.00" y="27.70" font-size="17" text-anchor="start">b) SiGeSn</text>
<text x="241.00" y="190.70" font-size="13.9" font-style="italic">V<tspan font-size="9.4" dy="3.06">DS</tspan></text>
<text x="271.20" y="190.70" font-size="13.9">= 0.5 V</text>
<text x="241.00" y="206.70" font-size="13.9" font-style="italic">W<tspan font-size="9.4" dy="3.06">NW</tspan></text>
<text x="271.20" y="206.70" font-size="13.9">= 90 nm</text>
<text x="241.00" y="222.90" font-size="13.9" font-style="italic">L<tspan font-size="9.4" dy="3.06">NW</tspan></text>
<text x="271.20" y="222.90" font-size="13.9">= 500 nm</text>
<text x="241.00" y="239.20" font-size="13.9" font-style="italic">W<tspan font-size="9.4" dy="3.06">TG</tspan></text>
<text x="271.20" y="239.20" font-size="13.9">= 140 nm</text>
<text x="588.00" y="190.30" font-size="13.9" font-style="italic">V<tspan font-size="9.4" dy="3.06">DS</tspan></text>
<text x="618.80" y="190.30" font-size="13.9">= 0.5 V</text>
<text x="588.00" y="206.50" font-size="13.9" font-style="italic">W<tspan font-size="9.4" dy="3.06">NW</tspan></text>
<text x="618.80" y="206.50" font-size="13.9">= 219 nm</text>
<text x="588.00" y="223.40" font-size="13.9" font-style="italic">L<tspan font-size="9.4" dy="3.06">NW</tspan></text>
<text x="618.80" y="223.40" font-size="13.9">= 500 nm</text>
<text x="588.00" y="239.80" font-size="13.9" font-style="italic">W<tspan font-size="9.4" dy="3.06">TG</tspan></text>
<text x="618.80" y="239.80" font-size="13.9">= 220 nm</text>
<text x="111.00" y="279.60" font-size="15.45">Top-gate voltage <tspan font-style="italic">V</tspan><tspan font-style="italic" font-size="11" dy="3.3">TG</tspan><tspan dy="-3.3"> (V)</tspan></text>
<text x="458.20" y="279.20" font-size="15.45">Top-gate voltage <tspan font-style="italic">V</tspan><tspan font-style="italic" font-size="11" dy="3.3">TG</tspan><tspan dy="-3.3"> (V)</tspan></text>
<text transform="translate(16.20,214.10) rotate(-90) scale(1,1.02)" x="0" y="0" font-size="15.3">Drain-source current <tspan font-style="italic">I</tspan><tspan font-size="11" dy="3.3">DS</tspan><tspan dy="-3.3"> (A)</tspan></text>
<text transform="translate(361.10,214.30) rotate(-90) scale(1,1.02)" x="0" y="0" font-size="15.3">Drain-source current <tspan font-style="italic">I</tspan><tspan font-size="11" font-style="italic" dy="3.3">DS</tspan><tspan dy="-3.3"> (A)</tspan></text>
<g shape-rendering="crispEdges">
<rect x="0" y="0" width="344" height="1" fill="#666"/>
<rect x="0" y="1" width="344" height="1" fill="#8c8c8c"/>
<rect x="0" y="286" width="344" height="1" fill="#606060"/>
<rect x="0" y="285" width="344" height="1" fill="#a0a0a0"/>
<rect x="0" y="0" width="1" height="287" fill="#686868"/>
<rect x="1" y="1" width="1" height="285" fill="#8f8f8f"/>
<rect x="342" y="0" width="1" height="287" fill="#d0d0d0"/>
<rect x="343" y="0" width="1" height="287" fill="#4d4d4d"/>
<rect x="344" y="0" width="1" height="287" fill="#e5e5e5"/>
<rect x="345" y="0" width="340" height="1" fill="#666"/>
<rect x="345" y="1" width="340" height="1" fill="#8c8c8c"/>
<rect x="345" y="286" width="340" height="1" fill="#606060"/>
<rect x="345" y="285" width="340" height="1" fill="#a0a0a0"/>
<rect x="345" y="0" width="1" height="287" fill="#828282"/>
<rect x="346" y="0" width="1" height="287" fill="#868686"/>
<rect x="683" y="0" width="1" height="287" fill="#9a9a9a"/>
<rect x="684" y="0" width="1" height="287" fill="#6a6a6a"/>
</g>
</svg>
</body></html>
